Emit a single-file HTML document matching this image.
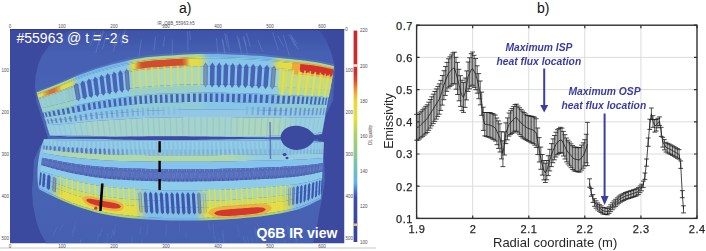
<!DOCTYPE html>
<html><head><meta charset="utf-8"><style>
*{margin:0;padding:0;box-sizing:border-box}
html,body{width:706px;height:251px;overflow:hidden;background:#fff}
body{position:relative;font-family:"Liberation Sans",sans-serif}
svg{position:absolute;left:0;top:0}
.lbl{position:absolute;font-size:14px;color:#111;line-height:16px}
.yl{position:absolute;left:389px;width:24px;text-align:right;font-size:11px;letter-spacing:0.55px;line-height:15px;color:#262626;-webkit-text-stroke:0.25px #262626}
.xl{position:absolute;top:221.5px;width:40px;text-align:center;font-size:11px;letter-spacing:0.55px;text-indent:0.55px;line-height:15px;color:#262626;-webkit-text-stroke:0.25px #262626}
.ann{position:absolute;font-style:italic;font-weight:700;font-size:10.3px;line-height:14px;color:#3a3c9e;white-space:nowrap}
#wrap{position:absolute;left:0;top:0;width:706px;height:251px;background:#fff;filter:blur(0.3px)}
</style></head><body><div id="wrap">
<svg width="706" height="251" viewBox="0 0 706 251">
<defs>
<linearGradient id="cb" x1="0" y1="0" x2="0" y2="1"><stop offset="0" stop-color="#c8282c"/><stop offset="0.196" stop-color="#cc2c2c"/><stop offset="0.234" stop-color="#d84828"/><stop offset="0.267" stop-color="#e88030"/><stop offset="0.3" stop-color="#f0b030"/><stop offset="0.333" stop-color="#e8d838"/><stop offset="0.414" stop-color="#e4e040"/><stop offset="0.447" stop-color="#c8dc48"/><stop offset="0.5" stop-color="#a8d068"/><stop offset="0.58" stop-color="#90c890"/><stop offset="0.65" stop-color="#70c0b8"/><stop offset="0.72" stop-color="#64b4e4"/><stop offset="0.76" stop-color="#4a70c8"/><stop offset="0.79" stop-color="#3c4ca6"/><stop offset="1.0" stop-color="#36429e"/></linearGradient>
<filter id="blr" x="0" y="0" width="1" height="1"><feGaussianBlur stdDeviation="0.6"/></filter><clipPath id="irclip"><rect x="10" y="29" width="334.5" height="214.5"/></clipPath>
<linearGradient id="vesg" gradientUnits="userSpaceOnUse" x1="0" y1="29" x2="0" y2="243"><stop offset="0" stop-color="#3e52a8"/><stop offset="0.12" stop-color="#4660b2"/><stop offset="0.5" stop-color="#4a66b6"/><stop offset="0.85" stop-color="#4762b2"/><stop offset="1" stop-color="#4560b0"/></linearGradient><linearGradient id="g1" gradientUnits="userSpaceOnUse" x1="10" y1="0" x2="345" y2="0"><stop offset="0.000" stop-color="#76b6e6"/><stop offset="0.048" stop-color="#76b6e6"/><stop offset="0.060" stop-color="#7dbadb"/><stop offset="0.072" stop-color="#98cbb0"/><stop offset="0.084" stop-color="#acd890"/><stop offset="0.179" stop-color="#acd890"/><stop offset="0.191" stop-color="#91c7bb"/><stop offset="0.203" stop-color="#76b6e6"/><stop offset="0.346" stop-color="#76b6e6"/><stop offset="0.358" stop-color="#91c7bb"/><stop offset="0.370" stop-color="#acd890"/><stop offset="0.561" stop-color="#acd890"/><stop offset="0.573" stop-color="#9ed0a6"/><stop offset="0.585" stop-color="#84bed0"/><stop offset="0.597" stop-color="#76b6e6"/><stop offset="0.776" stop-color="#76b6e6"/><stop offset="0.788" stop-color="#8ac3c6"/><stop offset="0.800" stop-color="#a5d49b"/><stop offset="0.812" stop-color="#acd890"/><stop offset="0.967" stop-color="#acd890"/><stop offset="0.979" stop-color="#9ed0a6"/><stop offset="0.991" stop-color="#84bed0"/></linearGradient><linearGradient id="g2" gradientUnits="userSpaceOnUse" x1="10" y1="0" x2="345" y2="0"><stop offset="0.000" stop-color="#84c4e6"/><stop offset="0.048" stop-color="#84c4e6"/><stop offset="0.060" stop-color="#8fc7d3"/><stop offset="0.072" stop-color="#bbd388"/><stop offset="0.084" stop-color="#dcdc50"/><stop offset="0.096" stop-color="#dcdc50"/><stop offset="0.107" stop-color="#e1c849"/><stop offset="0.119" stop-color="#e5bb44"/><stop offset="0.131" stop-color="#e5bb44"/><stop offset="0.143" stop-color="#e1c849"/><stop offset="0.155" stop-color="#dcdc50"/><stop offset="0.179" stop-color="#dcdc50"/><stop offset="0.191" stop-color="#b0d09b"/><stop offset="0.203" stop-color="#84c4e6"/><stop offset="0.346" stop-color="#84c4e6"/><stop offset="0.358" stop-color="#b0d09b"/><stop offset="0.370" stop-color="#dcdc50"/><stop offset="0.382" stop-color="#e3c246"/><stop offset="0.394" stop-color="#e8b040"/><stop offset="0.513" stop-color="#e8b040"/><stop offset="0.525" stop-color="#e3c246"/><stop offset="0.537" stop-color="#dcdc50"/><stop offset="0.561" stop-color="#dcdc50"/><stop offset="0.573" stop-color="#c6d676"/><stop offset="0.585" stop-color="#9acac0"/><stop offset="0.597" stop-color="#84c4e6"/><stop offset="0.776" stop-color="#84c4e6"/><stop offset="0.788" stop-color="#a5cdae"/><stop offset="0.800" stop-color="#d1d963"/><stop offset="0.812" stop-color="#dcdc50"/><stop offset="0.967" stop-color="#dcdc50"/><stop offset="0.979" stop-color="#c6d676"/><stop offset="0.991" stop-color="#9acac0"/></linearGradient><linearGradient id="g3" gradientUnits="userSpaceOnUse" x1="10" y1="0" x2="345" y2="0"><stop offset="0.000" stop-color="#86c6e8"/><stop offset="0.048" stop-color="#86c6e8"/><stop offset="0.060" stop-color="#92c9d4"/><stop offset="0.072" stop-color="#c1d482"/><stop offset="0.084" stop-color="#e4dc44"/><stop offset="0.096" stop-color="#e4dc44"/><stop offset="0.107" stop-color="#dc9c3a"/><stop offset="0.119" stop-color="#d77134"/><stop offset="0.131" stop-color="#d77134"/><stop offset="0.143" stop-color="#dc9c3a"/><stop offset="0.155" stop-color="#e4dc44"/><stop offset="0.179" stop-color="#e4dc44"/><stop offset="0.191" stop-color="#b5d196"/><stop offset="0.203" stop-color="#86c6e8"/><stop offset="0.346" stop-color="#86c6e8"/><stop offset="0.358" stop-color="#b5d196"/><stop offset="0.370" stop-color="#e4dc44"/><stop offset="0.382" stop-color="#d98637"/><stop offset="0.394" stop-color="#d24d2f"/><stop offset="0.513" stop-color="#d24d2f"/><stop offset="0.525" stop-color="#d98637"/><stop offset="0.537" stop-color="#e4dc44"/><stop offset="0.561" stop-color="#e4dc44"/><stop offset="0.573" stop-color="#ccd66d"/><stop offset="0.585" stop-color="#9eccbf"/><stop offset="0.597" stop-color="#86c6e8"/><stop offset="0.776" stop-color="#86c6e8"/><stop offset="0.788" stop-color="#a9ceaa"/><stop offset="0.800" stop-color="#d8d958"/><stop offset="0.812" stop-color="#e4dc44"/><stop offset="0.967" stop-color="#e4dc44"/><stop offset="0.979" stop-color="#ccd66d"/><stop offset="0.991" stop-color="#9eccbf"/></linearGradient><linearGradient id="g4" gradientUnits="userSpaceOnUse" x1="10" y1="0" x2="345" y2="0"><stop offset="0.000" stop-color="#84c4ea"/><stop offset="0.048" stop-color="#84c4ea"/><stop offset="0.060" stop-color="#88c5e4"/><stop offset="0.072" stop-color="#96c9ca"/><stop offset="0.084" stop-color="#a1ccb7"/><stop offset="0.096" stop-color="#a1ccb7"/><stop offset="0.107" stop-color="#c1bf81"/><stop offset="0.119" stop-color="#d6b75e"/><stop offset="0.131" stop-color="#d6b75e"/><stop offset="0.143" stop-color="#c1bf81"/><stop offset="0.155" stop-color="#a1ccb7"/><stop offset="0.191" stop-color="#a1ccb7"/><stop offset="0.203" stop-color="#93c8d0"/><stop offset="0.215" stop-color="#84c4ea"/><stop offset="0.346" stop-color="#84c4ea"/><stop offset="0.358" stop-color="#aed0a1"/><stop offset="0.370" stop-color="#d8dc58"/><stop offset="0.382" stop-color="#e2c24a"/><stop offset="0.394" stop-color="#e8b040"/><stop offset="0.513" stop-color="#e8b040"/><stop offset="0.525" stop-color="#e2c24a"/><stop offset="0.537" stop-color="#d8dc58"/><stop offset="0.561" stop-color="#d8dc58"/><stop offset="0.573" stop-color="#c3d67c"/><stop offset="0.585" stop-color="#99cac6"/><stop offset="0.597" stop-color="#84c4ea"/><stop offset="0.776" stop-color="#84c4ea"/><stop offset="0.788" stop-color="#a4cdb3"/><stop offset="0.800" stop-color="#ced96a"/><stop offset="0.812" stop-color="#d8dc58"/><stop offset="0.967" stop-color="#d8dc58"/><stop offset="0.979" stop-color="#c3d67c"/><stop offset="0.991" stop-color="#99cac6"/></linearGradient><linearGradient id="g5" gradientUnits="userSpaceOnUse" x1="10" y1="0" x2="345" y2="0"><stop offset="0.000" stop-color="#82c4ea"/><stop offset="0.048" stop-color="#82c4ea"/><stop offset="0.060" stop-color="#84c5e8"/><stop offset="0.072" stop-color="#8ac8e1"/><stop offset="0.084" stop-color="#8fcbdb"/><stop offset="0.191" stop-color="#8fcbdb"/><stop offset="0.203" stop-color="#89c8e3"/><stop offset="0.215" stop-color="#82c4ea"/><stop offset="0.346" stop-color="#82c4ea"/><stop offset="0.358" stop-color="#95ced5"/><stop offset="0.370" stop-color="#a8d8c0"/><stop offset="0.561" stop-color="#a8d8c0"/><stop offset="0.573" stop-color="#9ed3ca"/><stop offset="0.585" stop-color="#8cc9e0"/><stop offset="0.597" stop-color="#82c4ea"/><stop offset="0.776" stop-color="#82c4ea"/><stop offset="0.788" stop-color="#90ccda"/><stop offset="0.800" stop-color="#a3d6c5"/><stop offset="0.812" stop-color="#a8d8c0"/><stop offset="0.967" stop-color="#a8d8c0"/><stop offset="0.979" stop-color="#9ed3ca"/><stop offset="0.991" stop-color="#8cc9e0"/></linearGradient><linearGradient id="g6" gradientUnits="userSpaceOnUse" x1="10" y1="0" x2="345" y2="0"><stop offset="0.000" stop-color="#8ccce8"/><stop offset="0.048" stop-color="#8ccce8"/><stop offset="0.060" stop-color="#8ecce4"/><stop offset="0.072" stop-color="#94ced4"/><stop offset="0.084" stop-color="#98d0c8"/><stop offset="0.179" stop-color="#98d0c8"/><stop offset="0.191" stop-color="#92ced8"/><stop offset="0.203" stop-color="#8ccce8"/><stop offset="0.346" stop-color="#8ccce8"/><stop offset="0.358" stop-color="#92ced8"/><stop offset="0.370" stop-color="#98d0c8"/><stop offset="0.561" stop-color="#98d0c8"/><stop offset="0.573" stop-color="#95cfd0"/><stop offset="0.585" stop-color="#8fcde0"/><stop offset="0.597" stop-color="#8ccce8"/><stop offset="0.776" stop-color="#8ccce8"/><stop offset="0.788" stop-color="#90cedc"/><stop offset="0.800" stop-color="#96d0cc"/><stop offset="0.812" stop-color="#98d0c8"/><stop offset="0.967" stop-color="#98d0c8"/><stop offset="0.979" stop-color="#95cfd0"/><stop offset="0.991" stop-color="#8fcde0"/></linearGradient><linearGradient id="g7" gradientUnits="userSpaceOnUse" x1="10" y1="0" x2="345" y2="0"><stop offset="0.000" stop-color="#7cbce8"/><stop offset="0.048" stop-color="#7cbce8"/><stop offset="0.060" stop-color="#7ebee6"/><stop offset="0.072" stop-color="#84c4e0"/><stop offset="0.084" stop-color="#88c8dc"/><stop offset="0.179" stop-color="#88c8dc"/><stop offset="0.191" stop-color="#82c2e2"/><stop offset="0.203" stop-color="#7cbce8"/><stop offset="0.346" stop-color="#7cbce8"/><stop offset="0.358" stop-color="#82c2e2"/><stop offset="0.370" stop-color="#88c8dc"/><stop offset="0.561" stop-color="#88c8dc"/><stop offset="0.573" stop-color="#85c5df"/><stop offset="0.585" stop-color="#7fbfe5"/><stop offset="0.597" stop-color="#7cbce8"/><stop offset="0.776" stop-color="#7cbce8"/><stop offset="0.788" stop-color="#80c0e4"/><stop offset="0.800" stop-color="#86c6de"/><stop offset="0.812" stop-color="#88c8dc"/><stop offset="0.967" stop-color="#88c8dc"/><stop offset="0.979" stop-color="#85c5df"/><stop offset="0.991" stop-color="#7fbfe5"/></linearGradient><linearGradient id="g8" gradientUnits="userSpaceOnUse" x1="10" y1="0" x2="345" y2="0"><stop offset="0.000" stop-color="#86c6e6"/><stop offset="0.048" stop-color="#86c6e6"/><stop offset="0.060" stop-color="#87c7e4"/><stop offset="0.072" stop-color="#8ccadd"/><stop offset="0.084" stop-color="#90ccd8"/><stop offset="0.179" stop-color="#90ccd8"/><stop offset="0.191" stop-color="#8bc9df"/><stop offset="0.203" stop-color="#86c6e6"/><stop offset="0.346" stop-color="#86c6e6"/><stop offset="0.358" stop-color="#8bc9df"/><stop offset="0.370" stop-color="#90ccd8"/><stop offset="0.561" stop-color="#90ccd8"/><stop offset="0.573" stop-color="#8ecadc"/><stop offset="0.585" stop-color="#88c8e2"/><stop offset="0.597" stop-color="#86c6e6"/><stop offset="0.776" stop-color="#86c6e6"/><stop offset="0.788" stop-color="#8ac8e1"/><stop offset="0.800" stop-color="#8fcbda"/><stop offset="0.812" stop-color="#90ccd8"/><stop offset="0.967" stop-color="#90ccd8"/><stop offset="0.979" stop-color="#8ecadc"/><stop offset="0.991" stop-color="#88c8e2"/></linearGradient><linearGradient id="g9" gradientUnits="userSpaceOnUse" x1="10" y1="0" x2="345" y2="0"><stop offset="0.000" stop-color="#98cede"/><stop offset="0.155" stop-color="#98cede"/><stop offset="0.167" stop-color="#99cedd"/><stop offset="0.179" stop-color="#9bcfda"/><stop offset="0.191" stop-color="#9dd0d6"/><stop offset="0.203" stop-color="#9fd1d3"/><stop offset="0.215" stop-color="#a1d1d0"/><stop offset="0.227" stop-color="#a3d2cc"/><stop offset="0.239" stop-color="#a5d3c9"/><stop offset="0.657" stop-color="#a5d3c9"/><stop offset="0.669" stop-color="#a8d4c4"/><stop offset="0.681" stop-color="#abd5bf"/><stop offset="0.693" stop-color="#add6bc"/><stop offset="0.788" stop-color="#add6bc"/><stop offset="0.800" stop-color="#aad5c0"/><stop offset="0.812" stop-color="#a7d4c6"/><stop offset="0.824" stop-color="#a4d2cb"/><stop offset="0.836" stop-color="#a0d1d1"/><stop offset="0.848" stop-color="#9dd0d6"/><stop offset="0.860" stop-color="#9acfdb"/><stop offset="0.872" stop-color="#98cede"/><stop offset="0.991" stop-color="#98cede"/></linearGradient><linearGradient id="g10" gradientUnits="userSpaceOnUse" x1="10" y1="0" x2="345" y2="0"><stop offset="0.000" stop-color="#96cee0"/><stop offset="0.084" stop-color="#96cee0"/><stop offset="0.096" stop-color="#98cfdc"/><stop offset="0.107" stop-color="#9bd0d5"/><stop offset="0.119" stop-color="#9fd1cd"/><stop offset="0.131" stop-color="#a2d3c6"/><stop offset="0.143" stop-color="#a6d4be"/><stop offset="0.155" stop-color="#a9d5b7"/><stop offset="0.167" stop-color="#add7af"/><stop offset="0.179" stop-color="#b0d8a8"/><stop offset="0.657" stop-color="#b0d8a8"/><stop offset="0.669" stop-color="#add7af"/><stop offset="0.681" stop-color="#a9d5b7"/><stop offset="0.693" stop-color="#a6d4be"/><stop offset="0.704" stop-color="#a2d3c6"/><stop offset="0.716" stop-color="#9fd1cd"/><stop offset="0.728" stop-color="#9bd0d5"/><stop offset="0.740" stop-color="#98cfdc"/><stop offset="0.752" stop-color="#96cee0"/><stop offset="0.991" stop-color="#96cee0"/></linearGradient><linearGradient id="g11" gradientUnits="userSpaceOnUse" x1="10" y1="0" x2="345" y2="0"><stop offset="0.000" stop-color="#84c4ea"/><stop offset="0.119" stop-color="#84c4ea"/><stop offset="0.131" stop-color="#90cbd9"/><stop offset="0.143" stop-color="#9cd1c9"/><stop offset="0.155" stop-color="#a8d8b8"/><stop offset="0.370" stop-color="#a8d8b8"/><stop offset="0.382" stop-color="#9fd3c4"/><stop offset="0.394" stop-color="#93ccd5"/><stop offset="0.406" stop-color="#87c6e6"/><stop offset="0.418" stop-color="#84c4ea"/><stop offset="0.549" stop-color="#84c4ea"/><stop offset="0.561" stop-color="#8ac7e2"/><stop offset="0.573" stop-color="#96ced1"/><stop offset="0.585" stop-color="#a2d5c0"/><stop offset="0.597" stop-color="#a8d8b8"/><stop offset="0.812" stop-color="#a8d8b8"/><stop offset="0.824" stop-color="#a2d5c0"/><stop offset="0.836" stop-color="#96ced1"/><stop offset="0.848" stop-color="#8ac7e2"/><stop offset="0.860" stop-color="#84c4ea"/><stop offset="0.991" stop-color="#84c4ea"/></linearGradient><linearGradient id="g12" gradientUnits="userSpaceOnUse" x1="10" y1="0" x2="345" y2="0"><stop offset="0.000" stop-color="#82c2ea"/><stop offset="0.119" stop-color="#82c2ea"/><stop offset="0.131" stop-color="#99cbc1"/><stop offset="0.143" stop-color="#b1d399"/><stop offset="0.155" stop-color="#c8dc70"/><stop offset="0.370" stop-color="#c8dc70"/><stop offset="0.382" stop-color="#b6d68e"/><stop offset="0.394" stop-color="#9fcdb7"/><stop offset="0.406" stop-color="#88c4e0"/><stop offset="0.418" stop-color="#82c2ea"/><stop offset="0.549" stop-color="#82c2ea"/><stop offset="0.561" stop-color="#8ec6d6"/><stop offset="0.573" stop-color="#a5cfad"/><stop offset="0.585" stop-color="#bcd884"/><stop offset="0.597" stop-color="#c8dc70"/><stop offset="0.812" stop-color="#c8dc70"/><stop offset="0.824" stop-color="#bcd884"/><stop offset="0.836" stop-color="#a5cfad"/><stop offset="0.848" stop-color="#8ec6d6"/><stop offset="0.860" stop-color="#82c2ea"/><stop offset="0.991" stop-color="#82c2ea"/></linearGradient><linearGradient id="g13" gradientUnits="userSpaceOnUse" x1="10" y1="0" x2="345" y2="0"><stop offset="0.000" stop-color="#80c0e6"/><stop offset="0.119" stop-color="#80c0e6"/><stop offset="0.131" stop-color="#a1c9b1"/><stop offset="0.143" stop-color="#c3d37d"/><stop offset="0.155" stop-color="#e4dc48"/><stop offset="0.370" stop-color="#e4dc48"/><stop offset="0.382" stop-color="#cbd570"/><stop offset="0.394" stop-color="#aacca4"/><stop offset="0.406" stop-color="#88c2d9"/><stop offset="0.418" stop-color="#80c0e6"/><stop offset="0.549" stop-color="#80c0e6"/><stop offset="0.561" stop-color="#91c5cc"/><stop offset="0.573" stop-color="#b2ce97"/><stop offset="0.585" stop-color="#d3d762"/><stop offset="0.597" stop-color="#e4dc48"/><stop offset="0.812" stop-color="#e4dc48"/><stop offset="0.824" stop-color="#d3d762"/><stop offset="0.836" stop-color="#b2ce97"/><stop offset="0.848" stop-color="#91c5cc"/><stop offset="0.860" stop-color="#80c0e6"/><stop offset="0.991" stop-color="#80c0e6"/></linearGradient><linearGradient id="g14" gradientUnits="userSpaceOnUse" x1="10" y1="0" x2="345" y2="0"><stop offset="0.000" stop-color="#78b4e0"/><stop offset="0.119" stop-color="#78b4e0"/><stop offset="0.131" stop-color="#88bdbd"/><stop offset="0.143" stop-color="#98c79b"/><stop offset="0.155" stop-color="#a8d078"/><stop offset="0.370" stop-color="#a8d078"/><stop offset="0.382" stop-color="#9cc992"/><stop offset="0.394" stop-color="#8cc0b5"/><stop offset="0.406" stop-color="#7cb6d7"/><stop offset="0.418" stop-color="#78b4e0"/><stop offset="0.549" stop-color="#78b4e0"/><stop offset="0.561" stop-color="#80b9cf"/><stop offset="0.573" stop-color="#90c2ac"/><stop offset="0.585" stop-color="#a0cb89"/><stop offset="0.597" stop-color="#a8d078"/><stop offset="0.812" stop-color="#a8d078"/><stop offset="0.824" stop-color="#a0cb89"/><stop offset="0.836" stop-color="#90c2ac"/><stop offset="0.848" stop-color="#80b9cf"/><stop offset="0.860" stop-color="#78b4e0"/><stop offset="0.991" stop-color="#78b4e0"/></linearGradient>
</defs>
<g clip-path="url(#irclip)"><g filter="url(#blr)">
<rect x="10" y="29" width="334.5" height="214.5" fill="#3b4a9e"/>
<path d="M72.0,29.0 319.0,29.0 326.0,40.0 332.0,55.0 335.0,68.0 333.0,100.0 326.0,115.0 319.5,134.7 318.0,138.0 319.5,147.0 324.0,160.0 325.0,180.0 322.0,199.0 320.0,208.0 317.0,226.0 313.0,243.5 46.5,243.5 40.0,232.0 36.0,220.0 33.0,205.0 32.0,190.0 33.0,178.0 34.0,160.0 40.0,146.0 48.0,138.0 36.0,100.0 35.0,85.0 35.6,76.0 38.0,65.0 42.0,55.5 49.0,45.7 57.0,39.0 65.0,33.0 Z" fill="url(#vesg)"/>
<path d="M164.5,36.5l-0.9,10.1M106.7,33.7l-4.4,15.5M103.3,30.4l-4.6,15.1M189.7,30.9l0.6,9.0M187.6,31.2l0.5,19.6M141.3,39.5l-2.3,16.8M222.7,39.8l2.6,13.6M100.7,32.9l-4.8,20.0M123.2,33.1l-3.4,9.6M277.7,35.8l5.9,10.5M237.0,35.5l3.4,13.2M104.4,32.1l-4.5,8.8M246.5,33.1l4.0,14.0M224.7,33.0l2.7,14.3M272.7,32.4l5.6,17.8M222.1,38.8l2.5,15.4M257.8,39.8l4.7,12.0M117.2,37.6l-3.8,13.9M125.0,30.4l-3.3,14.8M243.7,35.7l3.8,18.7M291.4,37.0l6.7,12.4M226.7,34.6l2.8,16.1M283.2,34.7l6.2,21.2M242.8,37.0l3.8,8.8M238.8,38.2l3.5,21.9M155.5,36.7l-1.5,13.4M95.2,31.7l-5.1,14.5M116.9,37.7l-3.8,8.8M119.7,33.9l-3.6,11.5M290.4,34.5l6.6,9.1M216.4,38.2l2.2,20.4M288.7,34.2l6.5,11.9M172.5,39.6l-0.4,20.4M124.7,32.3l-3.3,10.5" stroke="#7e9ee0" stroke-width="0.7" opacity="0.45" fill="none"/>
<path d="M108.3,232.6l-2.1,11.8M115.7,229.5l-1.9,6.0M142.3,239.2l-1.1,12.8M222.6,233.1l1.3,12.2M219.1,238.2l1.2,6.6M245.0,236.4l1.9,16.5M148.1,223.9l-1.0,10.8M208.6,223.2l0.9,6.7M102.2,228.1l-2.3,7.9M63.1,224.7l-3.5,6.0M75.4,222.5l-3.1,10.4M268.6,224.7l2.7,13.4M113.1,228.6l-2.0,10.2M80.7,239.9l-3.0,16.2M166.5,223.5l-0.4,11.8M75.5,226.8l-3.1,10.1M257.2,222.4l2.3,7.9M287.7,224.6l3.2,12.3M185.8,231.5l0.2,6.3M294.6,234.5l3.4,16.4M115.3,225.0l-1.9,10.4M243.0,236.0l1.9,12.4M132.4,236.6l-1.4,8.7M296.2,236.5l3.5,16.2M254.6,226.1l2.2,14.9M179.4,222.5l-0.0,10.3M57.0,226.7l-3.7,9.4M223.1,230.1l1.3,17.5M284.3,239.2l3.1,17.9M141.2,226.1l-1.2,8.6M99.2,233.2l-2.4,8.5M275.1,230.6l2.9,16.1M213.2,223.5l1.0,15.6M215.1,236.1l1.1,16.9M237.5,225.2l1.7,11.7M247.3,236.4l2.0,10.0M292.9,229.2l3.4,10.8M286.7,225.1l3.2,14.7M81.8,238.3l-2.9,7.8M251.6,236.9l2.1,7.8" stroke="#6a88d0" stroke-width="0.7" opacity="0.35" fill="none"/>
<rect x="10" y="29" width="335" height="1.2" fill="#2e3c94"/>
<path d="M36.2,91.4 39.3,90.1 43.8,88.3 49.1,86.2 54.7,83.9 60.2,81.6 66.2,79.0 72.5,76.3 78.9,73.6 85.2,71.1 91.3,68.9 97.4,66.9 103.5,65.0 109.5,63.2 115.6,61.6 121.8,60.0 127.9,58.6 134.1,57.3 140.3,56.2 146.4,55.3 152.4,54.7 158.5,54.2 164.7,53.8 171.1,53.3 177.7,52.9 184.5,52.5 191.4,52.2 198.2,51.9 204.8,51.9 211.5,51.9 218.1,52.0 224.7,52.2 231.3,52.5 237.9,52.7 244.5,53.0 251.1,53.3 257.7,53.8 264.4,54.3 271.2,54.9 277.9,55.7 284.5,56.4 290.7,57.1 296.7,57.8 302.4,58.4 307.8,59.1 313.0,59.8 317.9,60.6 322.9,61.6 327.6,62.7 331.5,63.6 334.3,64.3 334.0,66.0 331.2,65.4 327.3,64.5 322.6,63.4 317.7,62.5 312.8,61.7 307.6,61.0 302.2,60.3 296.5,59.7 290.5,59.1 284.3,58.4 277.8,57.7 271.0,57.0 264.2,56.3 257.6,55.8 251.0,55.4 244.4,55.1 237.8,54.8 231.2,54.5 224.6,54.3 218.0,54.1 211.4,54.0 204.8,54.0 198.2,54.0 191.4,54.2 184.6,54.6 177.8,55.0 171.2,55.4 164.8,55.8 158.6,56.2 152.5,56.7 146.5,57.3 140.4,58.2 134.2,59.2 128.1,60.5 121.9,61.9 115.8,63.4 109.7,65.0 103.7,66.8 97.6,68.6 91.5,70.6 85.4,72.7 79.2,75.1 72.8,77.8 66.5,80.4 60.5,83.0 55.0,85.2 49.4,87.4 44.1,89.5 39.7,91.3 36.5,92.5 Z" fill="#5a80c8" opacity="0.5"/>
<path d="M36.5,92.5 39.7,91.3 44.1,89.5 49.4,87.4 55.0,85.2 60.5,83.0 66.5,80.4 72.8,77.8 79.2,75.1 85.4,72.7 91.5,70.6 97.6,68.6 103.7,66.8 109.7,65.0 115.8,63.4 121.9,61.9 128.1,60.5 134.2,59.2 140.4,58.2 146.5,57.3 152.5,56.7 158.6,56.2 164.8,55.8 171.2,55.4 177.8,55.0 184.6,54.6 191.4,54.2 198.2,54.0 204.8,54.0 211.4,54.0 218.0,54.1 224.6,54.3 231.2,54.5 237.8,54.8 244.4,55.1 251.0,55.4 257.6,55.8 264.2,56.3 271.0,57.0 277.8,57.7 284.3,58.4 290.5,59.1 296.5,59.7 302.2,60.3 307.6,61.0 312.8,61.7 317.7,62.5 322.6,63.4 327.3,64.5 331.2,65.4 334.0,66.0 333.6,68.4 330.8,67.8 326.9,66.9 322.3,66.0 317.3,65.0 312.4,64.3 307.3,63.6 301.9,63.0 296.2,62.4 290.3,61.8 284.1,61.2 277.5,60.5 270.8,59.8 264.1,59.2 257.4,58.7 250.9,58.3 244.3,58.0 237.7,57.7 231.1,57.5 224.5,57.3 218.0,57.1 211.4,56.9 204.8,56.9 198.2,57.0 191.4,57.2 184.6,57.5 177.9,57.9 171.3,58.3 164.9,58.7 158.7,59.1 152.7,59.5 146.6,60.1 140.6,61.0 134.4,62.0 128.3,63.2 122.2,64.6 116.1,66.0 110.0,67.6 103.9,69.2 97.9,71.0 91.9,72.9 85.8,75.0 79.5,77.3 73.1,79.8 66.9,82.4 61.0,84.9 55.4,87.0 49.8,89.2 44.6,91.2 40.1,92.8 37.0,94.0 Z" fill="url(#g1)"/>
<path d="M37.0,94.0 40.1,92.8 44.6,91.2 49.8,89.2 55.4,87.0 61.0,84.9 66.9,82.4 73.1,79.8 79.5,77.3 85.8,75.0 91.9,72.9 97.9,71.0 103.9,69.2 110.0,67.6 116.1,66.0 122.2,64.6 128.3,63.2 134.4,62.0 140.6,61.0 146.6,60.1 152.7,59.5 158.7,59.1 164.9,58.7 171.3,58.3 177.9,57.9 184.6,57.5 191.4,57.2 198.2,57.0 204.8,56.9 211.4,56.9 218.0,57.1 224.5,57.3 231.1,57.5 237.7,57.7 244.3,58.0 250.9,58.3 257.4,58.7 264.1,59.2 270.8,59.8 277.5,60.5 284.1,61.2 290.3,61.8 296.2,62.4 301.9,63.0 307.3,63.6 312.4,64.3 317.3,65.0 322.3,66.0 326.9,66.9 330.8,67.8 333.6,68.4 333.4,69.4 330.6,68.8 326.7,68.0 322.1,67.0 317.2,66.1 312.3,65.4 307.2,64.7 301.7,64.2 296.1,63.6 290.2,63.0 284.0,62.3 277.4,61.7 270.7,61.0 264.0,60.4 257.4,59.9 250.8,59.5 244.2,59.2 237.6,58.9 231.1,58.7 224.5,58.5 218.0,58.3 211.4,58.2 204.8,58.2 198.2,58.2 191.4,58.4 184.6,58.7 177.9,59.1 171.3,59.5 164.9,59.9 158.8,60.3 152.7,60.8 146.7,61.4 140.6,62.2 134.5,63.2 128.4,64.4 122.3,65.7 116.2,67.2 110.1,68.7 104.1,70.3 98.0,72.0 92.0,73.9 85.9,75.9 79.7,78.2 73.3,80.7 67.1,83.3 61.1,85.7 55.6,87.8 50.0,89.9 44.8,91.9 40.3,93.5 37.2,94.7 Z" fill="url(#g2)"/>
<path d="M37.2,94.7 40.3,93.5 44.8,91.9 50.0,89.9 55.6,87.8 61.1,85.7 67.1,83.3 73.3,80.7 79.7,78.2 85.9,75.9 92.0,73.9 98.0,72.0 104.1,70.3 110.1,68.7 116.2,67.2 122.3,65.7 128.4,64.4 134.5,63.2 140.6,62.2 146.7,61.4 152.7,60.8 158.8,60.3 164.9,59.9 171.3,59.5 177.9,59.1 184.6,58.7 191.4,58.4 198.2,58.2 204.8,58.2 211.4,58.2 218.0,58.3 224.5,58.5 231.1,58.7 237.6,58.9 244.2,59.2 250.8,59.5 257.4,59.9 264.0,60.4 270.7,61.0 277.4,61.7 284.0,62.3 290.2,63.0 296.1,63.6 301.7,64.2 307.2,64.7 312.3,65.4 317.2,66.1 322.1,67.0 326.7,68.0 330.6,68.8 333.4,69.4 332.4,74.8 329.7,74.3 325.8,73.6 321.2,72.8 316.3,72.0 311.5,71.3 306.4,70.8 301.0,70.3 295.4,69.8 289.6,69.3 283.4,68.7 276.9,68.1 270.2,67.5 263.5,67.0 257.0,66.5 250.4,66.1 243.9,65.9 237.4,65.6 230.9,65.4 224.3,65.2 217.8,65.0 211.3,64.9 204.8,64.9 198.2,65.0 191.5,65.1 184.7,65.4 178.0,65.7 171.5,66.1 165.2,66.5 159.1,66.9 153.1,67.3 147.1,67.8 141.0,68.6 135.0,69.5 128.9,70.6 122.8,71.8 116.8,73.1 110.7,74.5 104.7,76.0 98.7,77.6 92.7,79.3 86.7,81.1 80.5,83.2 74.2,85.5 68.0,87.8 62.1,90.0 56.6,91.9 51.0,93.8 45.8,95.6 41.4,97.1 38.3,98.2 Z" fill="url(#g3)"/>
<path d="M38.3,98.2 41.4,97.1 45.8,95.6 51.0,93.8 56.6,91.9 62.1,90.0 68.0,87.8 74.2,85.5 80.5,83.2 86.7,81.1 92.7,79.3 98.7,77.6 104.7,76.0 110.7,74.5 116.8,73.1 122.8,71.8 128.9,70.6 135.0,69.5 141.0,68.6 147.1,67.8 153.1,67.3 159.1,66.9 165.2,66.5 171.5,66.1 178.0,65.7 184.7,65.4 191.5,65.1 198.2,65.0 204.8,64.9 211.3,64.9 217.8,65.0 224.3,65.2 230.9,65.4 237.4,65.6 243.9,65.9 250.4,66.1 257.0,66.5 263.5,67.0 270.2,67.5 276.9,68.1 283.4,68.7 289.6,69.3 295.4,69.8 301.0,70.3 306.4,70.8 311.5,71.3 316.3,72.0 321.2,72.8 325.8,73.6 329.7,74.3 332.4,74.8 332.2,76.2 329.4,75.7 325.6,75.0 321.0,74.2 316.1,73.5 311.3,72.8 306.2,72.3 300.9,71.8 295.3,71.3 289.4,70.8 283.3,70.3 276.8,69.7 270.1,69.1 263.4,68.6 256.9,68.2 250.4,67.8 243.8,67.5 237.3,67.3 230.8,67.1 224.3,66.9 217.8,66.7 211.3,66.6 204.8,66.6 198.2,66.6 191.5,66.8 184.8,67.1 178.1,67.4 171.5,67.8 165.2,68.1 159.1,68.5 153.1,68.9 147.2,69.4 141.1,70.1 135.1,71.1 129.0,72.1 123.0,73.3 116.9,74.6 110.9,76.0 104.9,77.4 98.9,79.0 92.9,80.6 86.9,82.4 80.7,84.5 74.4,86.7 68.2,89.0 62.3,91.1 56.8,93.0 51.3,94.8 46.1,96.5 41.7,98.0 38.5,99.0 Z" fill="url(#g4)"/>
<path d="M38.5,99.0 41.7,98.0 46.1,96.5 51.3,94.8 56.8,93.0 62.3,91.1 68.2,89.0 74.4,86.7 80.7,84.5 86.9,82.4 92.9,80.6 98.9,79.0 104.9,77.4 110.9,76.0 116.9,74.6 123.0,73.3 129.0,72.1 135.1,71.1 141.1,70.1 147.2,69.4 153.1,68.9 159.1,68.5 165.2,68.1 171.5,67.8 178.1,67.4 184.8,67.1 191.5,66.8 198.2,66.6 204.8,66.6 211.3,66.6 217.8,66.7 224.3,66.9 230.8,67.1 237.3,67.3 243.8,67.5 250.4,67.8 256.9,68.2 263.4,68.6 270.1,69.1 276.8,69.7 283.3,70.3 289.4,70.8 295.3,71.3 300.9,71.8 306.2,72.3 311.3,72.8 316.1,73.5 321.0,74.2 325.6,75.0 329.4,75.7 332.2,76.2 329.7,90.5 327.0,90.2 323.2,89.8 318.7,89.3 314.0,88.9 309.2,88.5 304.3,88.2 299.1,87.9 293.6,87.6 287.8,87.3 281.8,86.9 275.4,86.5 268.9,86.1 262.3,85.7 255.9,85.4 249.5,85.2 243.1,84.9 236.7,84.7 230.3,84.6 223.9,84.4 217.5,84.3 211.1,84.2 204.7,84.2 198.2,84.3 191.7,84.4 185.0,84.6 178.5,84.8 172.0,85.1 165.9,85.4 159.9,85.7 154.0,86.0 148.1,86.4 142.2,86.9 136.3,87.6 130.3,88.4 124.4,89.3 118.4,90.3 112.5,91.3 106.6,92.3 100.7,93.5 94.8,94.7 88.9,96.0 82.8,97.5 76.6,99.2 70.5,100.9 64.8,102.4 59.4,103.8 53.9,105.2 48.8,106.4 44.5,107.4 41.4,108.2 Z" fill="url(#g5)"/>
<path d="M41.4,108.2 44.5,107.4 48.8,106.4 53.9,105.2 59.4,103.8 64.8,102.4 70.5,100.9 76.6,99.2 82.8,97.5 88.9,96.0 94.8,94.7 100.7,93.5 106.6,92.3 112.5,91.3 118.4,90.3 124.4,89.3 130.3,88.4 136.3,87.6 142.2,86.9 148.1,86.4 154.0,86.0 159.9,85.7 165.9,85.4 172.0,85.1 178.5,84.8 185.0,84.6 191.7,84.4 198.2,84.3 204.7,84.2 211.1,84.2 217.5,84.3 223.9,84.4 230.3,84.6 236.7,84.7 243.1,84.9 249.5,85.2 255.9,85.4 262.3,85.7 268.9,86.1 275.4,86.5 281.8,86.9 287.8,87.3 293.6,87.6 299.1,87.9 304.3,88.2 309.2,88.5 314.0,88.9 318.7,89.3 323.2,89.8 327.0,90.2 329.7,90.5 328.5,97.3 325.8,97.1 322.1,96.8 317.7,96.5 313.0,96.2 308.3,95.9 303.4,95.7 298.2,95.6 292.7,95.4 287.1,95.1 281.1,94.9 274.8,94.5 268.3,94.2 261.8,93.9 255.4,93.6 249.0,93.4 242.7,93.2 236.4,93.1 230.0,92.9 223.7,92.8 217.3,92.7 211.0,92.6 204.6,92.6 198.2,92.7 191.7,92.8 185.2,92.9 178.7,93.2 172.3,93.4 166.2,93.6 160.2,93.8 154.4,94.1 148.6,94.4 142.7,94.9 136.8,95.5 130.9,96.2 125.0,96.9 119.1,97.7 113.3,98.6 107.4,99.5 101.6,100.4 95.7,101.4 89.8,102.5 83.8,103.8 77.7,105.1 71.7,106.5 66.0,107.8 60.6,109.0 55.2,110.1 50.1,111.1 45.8,111.9 42.7,112.5 Z" fill="url(#g6)"/>
<path d="M42.7,112.5 45.8,111.9 50.1,111.1 55.2,110.1 60.6,109.0 66.0,107.8 71.7,106.5 77.7,105.1 83.8,103.8 89.8,102.5 95.7,101.4 101.6,100.4 107.4,99.5 113.3,98.6 119.1,97.7 125.0,96.9 130.9,96.2 136.8,95.5 142.7,94.9 148.6,94.4 154.4,94.1 160.2,93.8 166.2,93.6 172.3,93.4 178.7,93.2 185.2,92.9 191.7,92.8 198.2,92.7 204.6,92.6 211.0,92.6 217.3,92.7 223.7,92.8 230.0,92.9 236.4,93.1 242.7,93.2 249.0,93.4 255.4,93.6 261.8,93.9 268.3,94.2 274.8,94.5 281.1,94.9 287.1,95.1 292.7,95.4 298.2,95.6 303.4,95.7 308.3,95.9 313.0,96.2 317.7,96.5 322.1,96.8 325.8,97.1 328.5,97.3 327.2,104.8 324.5,104.7 320.8,104.5 316.5,104.4 311.8,104.2 307.2,104.1 302.4,104.0 297.2,104.0 291.9,103.9 286.2,103.8 280.3,103.6 274.1,103.3 267.6,103.1 261.2,102.9 254.9,102.7 248.6,102.5 242.3,102.4 236.0,102.2 229.7,102.1 223.4,102.0 217.2,101.9 210.9,101.9 204.6,101.9 198.3,101.9 191.8,102.0 185.3,102.1 178.9,102.3 172.6,102.5 166.5,102.7 160.6,102.8 154.8,103.0 149.1,103.3 143.3,103.7 137.4,104.1 131.6,104.7 125.8,105.3 119.9,105.9 114.1,106.6 108.3,107.3 102.5,108.0 96.7,108.8 90.9,109.6 84.9,110.6 78.9,111.7 72.9,112.8 67.3,113.8 62.0,114.7 56.6,115.5 51.5,116.2 47.2,116.9 44.2,117.3 Z" fill="url(#g7)"/>
<path d="M44.2,117.3 47.2,116.9 51.5,116.2 56.6,115.5 62.0,114.7 67.3,113.8 72.9,112.8 78.9,111.7 84.9,110.6 90.9,109.6 96.7,108.8 102.5,108.0 108.3,107.3 114.1,106.6 119.9,105.9 125.8,105.3 131.6,104.7 137.4,104.1 143.3,103.7 149.1,103.3 154.8,103.0 160.6,102.8 166.5,102.7 172.6,102.5 178.9,102.3 185.3,102.1 191.8,102.0 198.3,101.9 204.6,101.9 210.9,101.9 217.2,101.9 223.4,102.0 229.7,102.1 236.0,102.2 242.3,102.4 248.6,102.5 254.9,102.7 261.2,102.9 267.6,103.1 274.1,103.3 280.3,103.6 286.2,103.8 291.9,103.9 297.2,104.0 302.4,104.0 307.2,104.1 311.8,104.2 316.5,104.4 320.8,104.5 324.5,104.7 327.2,104.8 326.1,110.9 323.5,110.9 319.8,110.9 315.5,110.9 310.9,110.8 306.3,110.8 301.5,110.9 296.5,110.9 291.1,110.9 285.6,110.8 279.7,110.7 273.5,110.6 267.1,110.4 260.7,110.2 254.4,110.1 248.2,109.9 242.0,109.8 235.7,109.7 229.5,109.6 223.3,109.5 217.0,109.5 210.8,109.4 204.6,109.4 198.3,109.5 191.9,109.5 185.4,109.6 179.0,109.8 172.8,109.9 166.8,110.1 160.9,110.2 155.2,110.4 149.5,110.6 143.7,110.9 138.0,111.2 132.2,111.7 126.4,112.2 120.6,112.7 114.8,113.2 109.0,113.7 103.3,114.2 97.5,114.8 91.7,115.5 85.8,116.2 79.8,117.1 73.9,117.9 68.3,118.7 63.1,119.3 57.7,119.9 52.7,120.5 48.4,120.9 45.4,121.2 Z" fill="url(#g8)"/>
<path d="M45.4,121.2 48.4,120.9 52.7,120.5 57.7,119.9 63.1,119.3 68.3,118.7 73.9,117.9 79.8,117.1 85.8,116.2 91.7,115.5 97.5,114.8 103.3,114.2 109.0,113.7 114.8,113.2 120.6,112.7 126.4,112.2 132.2,111.7 138.0,111.2 143.7,110.9 149.5,110.6 155.2,110.4 160.9,110.2 166.8,110.1 172.8,109.9 179.0,109.8 185.4,109.6 191.9,109.5 198.3,109.5 204.6,109.4 210.8,109.4 217.0,109.5 223.3,109.5 229.5,109.6 235.7,109.7 242.0,109.8 248.2,109.9 254.4,110.1 260.7,110.2 267.1,110.4 273.5,110.6 279.7,110.7 285.6,110.8 291.1,110.9 296.5,110.9 301.5,110.9 306.3,110.8 310.9,110.8 315.5,110.9 319.8,110.9 323.5,110.9 326.1,110.9 325.0,117.0 322.4,117.1 318.8,117.2 314.5,117.3 310.0,117.4 305.4,117.5 300.7,117.7 295.7,117.8 290.4,117.8 284.9,117.9 279.1,117.8 272.9,117.8 266.6,117.7 260.2,117.6 254.0,117.5 247.8,117.4 241.6,117.3 235.4,117.2 229.2,117.1 223.1,117.1 216.9,117.0 210.7,117.0 204.5,117.0 198.3,117.0 191.9,117.1 185.5,117.1 179.2,117.2 173.0,117.3 167.0,117.5 161.2,117.6 155.6,117.7 149.9,117.8 144.2,118.0 138.5,118.3 132.7,118.6 127.0,119.0 121.2,119.4 115.5,119.7 109.8,120.1 104.1,120.4 98.3,120.8 92.6,121.3 86.7,121.8 80.8,122.4 74.9,123.0 69.4,123.5 64.2,124.0 58.9,124.4 53.9,124.7 49.6,124.9 46.6,125.1 Z" fill="#90c8e6"/>
<path d="M46.6,125.1 49.6,124.9 53.9,124.7 58.9,124.4 64.2,124.0 69.4,123.5 74.9,123.0 80.8,122.4 86.7,121.8 92.6,121.3 98.3,120.8 104.1,120.4 109.8,120.1 115.5,119.7 121.2,119.4 127.0,119.0 132.7,118.6 138.5,118.3 144.2,118.0 149.9,117.8 155.6,117.7 161.2,117.6 167.0,117.5 173.0,117.3 179.2,117.2 185.5,117.1 191.9,117.1 198.3,117.0 204.5,117.0 210.7,117.0 216.9,117.0 223.1,117.1 229.2,117.1 235.4,117.2 241.6,117.3 247.8,117.4 254.0,117.5 260.2,117.6 266.6,117.7 272.9,117.8 279.1,117.8 284.9,117.9 290.4,117.8 295.7,117.8 300.7,117.7 305.4,117.5 310.0,117.4 314.5,117.3 318.8,117.2 322.4,117.1 325.0,117.0 322.3,132.3 319.8,132.6 316.3,133.0 312.1,133.5 307.7,133.9 303.2,134.3 298.6,134.7 293.7,135.0 288.6,135.3 283.2,135.5 277.5,135.7 271.5,135.8 265.3,135.9 259.0,135.9 252.9,136.0 246.9,136.0 240.8,136.0 234.7,135.9 228.7,135.9 222.6,135.9 216.6,135.9 210.5,135.9 204.4,135.9 198.3,135.9 192.1,135.9 185.8,135.9 179.6,135.9 173.6,135.9 167.7,135.9 162.0,136.0 156.5,136.0 150.9,136.0 145.4,136.0 139.7,136.0 134.1,136.1 128.5,136.1 122.9,136.2 117.2,136.1 111.6,136.1 106.0,136.0 100.4,135.9 94.8,135.9 89.0,135.8 83.2,135.8 77.5,135.8 72.0,135.7 66.9,135.6 61.7,135.4 56.8,135.2 52.6,135.0 49.7,134.9 Z" fill="url(#g9)"/>
<path d="M49.7,134.9 52.6,135.0 56.8,135.2 61.7,135.4 66.9,135.6 72.0,135.7 77.5,135.8 83.2,135.8 89.0,135.8 94.8,135.9 100.4,135.9 106.0,136.0 111.6,136.1 117.2,136.1 122.9,136.2 128.5,136.1 134.1,136.1 139.7,136.0 145.4,136.0 150.9,136.0 156.5,136.0 162.0,136.0 167.7,135.9 173.6,135.9 179.6,135.9 185.8,135.9 192.1,135.9 198.3,135.9 204.4,135.9 210.5,135.9 216.6,135.9 222.6,135.9 228.7,135.9 234.7,135.9 240.8,136.0 246.9,136.0 252.9,136.0 259.0,135.9 265.3,135.9 271.5,135.8 277.5,135.7 283.2,135.5 288.6,135.3 293.7,135.0 298.6,134.7 303.2,134.3 307.7,133.9 312.1,133.5 316.3,133.0 319.8,132.6 322.3,132.3 322.0,134.0 319.5,134.3 316.0,134.8 311.8,135.3 307.4,135.8 303.0,136.2 298.4,136.6 293.5,136.9 288.4,137.2 283.0,137.5 277.3,137.7 271.3,137.8 265.1,137.9 258.9,138.0 252.8,138.0 246.7,138.0 240.7,138.0 234.6,138.0 228.6,138.0 222.6,138.0 216.5,138.0 210.5,138.0 204.4,138.0 198.3,138.0 192.1,138.0 185.9,138.0 179.7,138.0 173.6,138.0 167.8,138.0 162.1,138.0 156.6,138.0 151.1,138.0 145.5,138.0 139.9,138.0 134.3,138.0 128.7,138.0 123.0,138.0 117.4,138.0 111.8,137.9 106.2,137.7 100.6,137.6 95.0,137.5 89.3,137.4 83.5,137.3 77.8,137.2 72.3,137.1 67.2,136.9 62.0,136.7 57.1,136.4 53.0,136.2 50.0,136.0 Z" fill="#8cc4dc"/>
<path d="M281.0,70.1 284.3,70.4 287.5,70.7 290.6,70.9 293.6,71.2 296.6,71.4 299.5,71.7 302.4,71.9 305.1,72.2 307.8,72.5 310.4,72.7 313.0,73.0 315.5,73.4 318.0,73.7 320.5,74.1 323.0,74.5 325.3,75.0 327.4,75.3 329.3,75.7 330.9,76.0 332.2,76.2 328.6,96.6 327.4,96.5 325.8,96.4 324.0,96.2 321.9,96.1 319.7,95.9 317.3,95.7 314.8,95.6 312.4,95.4 310.0,95.3 307.5,95.2 305.0,95.0 302.4,94.9 299.7,94.8 297.0,94.7 294.1,94.6 291.3,94.5 288.3,94.4 285.3,94.3 282.2,94.1 279.0,93.9 Z" fill="#c8dc78" opacity="0.6"/>
<path d="M292.5,61.6 295.1,61.9 297.6,62.2 300.0,62.4 302.5,62.7 304.8,62.9 307.1,63.2 309.4,63.5 311.6,63.8 313.7,64.1 315.8,64.4 318.0,64.8 320.1,65.2 322.2,65.6 324.3,66.0 326.2,66.4 328.1,66.8 329.8,67.2 331.3,67.5 332.6,67.8 333.6,68.0 331.7,78.9 330.7,78.8 329.4,78.5 327.9,78.3 326.3,78.0 324.5,77.7 322.5,77.4 320.5,77.1 318.4,76.8 316.3,76.5 314.2,76.2 312.1,76.0 310.0,75.7 307.9,75.5 305.7,75.3 303.4,75.1 301.1,74.9 298.7,74.7 296.3,74.5 293.8,74.3 291.3,74.1 Z" fill="#ef9a3a" opacity="0.8"/>
<path d="M300.4,64.0 302.4,64.2 304.4,64.4 306.4,64.7 308.3,64.9 310.1,65.1 312.0,65.3 313.7,65.6 315.5,65.9 317.3,66.1 319.1,66.5 320.8,66.8 322.6,67.1 324.3,67.5 326.0,67.8 327.5,68.2 329.0,68.5 330.3,68.8 331.5,69.0 332.6,69.2 333.4,69.4 332.1,76.9 331.2,76.7 330.2,76.6 329.0,76.3 327.7,76.1 326.3,75.9 324.7,75.6 323.1,75.3 321.4,75.0 319.7,74.7 317.9,74.5 316.1,74.2 314.4,74.0 312.6,73.7 310.9,73.5 309.1,73.4 307.2,73.2 305.4,73.0 303.4,72.8 301.5,72.6 299.5,72.5 Z" fill="#d02a2a" opacity="0.95"/>
<path d="M69.2,85.5 71.7,87.0 74.1,99.9 72.5,102.8 70.0,101.0 67.5,88.6 Z" fill="#3e4eaa" fill-opacity="0.07"/>
<path d="M75.7,83.0 78.3,84.6 80.6,98.1 78.8,101.1 76.3,99.3 73.9,86.2 Z" fill="#3e4eaa" fill-opacity="0.74"/>
<path d="M82.3,80.6 84.8,82.4 87.0,96.5 85.2,99.5 82.7,97.6 80.5,83.9 Z" fill="#3e4eaa" fill-opacity="0.82"/>
<path d="M88.7,78.4 91.1,80.4 93.2,95.1 91.5,98.1 89.0,96.0 86.9,81.7 Z" fill="#3e4eaa" fill-opacity="0.82"/>
<path d="M95.0,76.5 97.4,78.7 99.3,93.8 97.6,96.9 95.2,94.6 93.2,79.8 Z" fill="#3e4eaa" fill-opacity="0.82"/>
<path d="M101.2,74.7 103.6,77.0 105.5,92.6 103.7,95.8 101.4,93.4 99.5,78.1 Z" fill="#3e4eaa" fill-opacity="0.82"/>
<path d="M107.5,73.1 109.9,75.5 111.6,91.4 109.9,94.7 107.5,92.2 105.7,76.5 Z" fill="#3e4eaa" fill-opacity="0.82"/>
<path d="M113.8,71.5 116.2,74.0 117.8,90.4 116.0,93.7 113.6,91.1 112.0,75.0 Z" fill="#3e4eaa" fill-opacity="0.82"/>
<path d="M120.1,70.1 122.5,72.7 123.9,89.4 122.2,92.7 119.8,90.0 118.3,73.6 Z" fill="#3e4eaa" fill-opacity="0.82"/>
<path d="M126.4,68.7 128.8,71.4 130.1,88.4 128.3,91.8 126.0,89.1 124.6,72.2 Z" fill="#3e4eaa" fill-opacity="0.68"/>
<path d="M132.8,67.5 135.1,70.3 136.3,87.6 134.5,91.0 132.2,88.1 130.9,71.0 Z" fill="#3e4eaa" fill-opacity="0.04"/>
<path d="M205.6,62.4 207.9,65.7 207.7,84.2 205.5,87.6 203.3,84.2 203.3,65.7 Z" fill="#3e4eaa" fill-opacity="0.57"/>
<path d="M212.4,62.4 214.7,65.8 214.4,84.3 212.1,87.6 209.9,84.2 210.1,65.7 Z" fill="#3e4eaa" fill-opacity="0.82"/>
<path d="M219.2,62.6 221.4,66.0 221.0,84.4 218.8,87.7 216.6,84.3 216.9,65.9 Z" fill="#3e4eaa" fill-opacity="0.82"/>
<path d="M226.0,62.7 228.2,66.1 227.7,84.5 225.4,87.8 223.2,84.4 223.7,66.0 Z" fill="#3e4eaa" fill-opacity="0.82"/>
<path d="M232.8,62.9 235.0,66.4 234.4,84.7 232.0,88.0 229.9,84.6 230.5,66.2 Z" fill="#3e4eaa" fill-opacity="0.82"/>
<path d="M239.7,63.2 241.8,66.6 241.0,84.9 238.7,88.1 236.6,84.7 237.3,66.4 Z" fill="#3e4eaa" fill-opacity="0.82"/>
<path d="M246.5,63.5 248.6,66.9 247.7,85.1 245.3,88.3 243.2,84.9 244.1,66.7 Z" fill="#3e4eaa" fill-opacity="0.82"/>
<path d="M253.3,63.8 255.4,67.2 254.4,85.3 252.0,88.6 249.9,85.2 250.9,67.0 Z" fill="#3e4eaa" fill-opacity="0.82"/>
<path d="M260.1,64.2 262.2,67.7 261.1,85.7 258.6,88.8 256.6,85.4 257.7,67.4 Z" fill="#3e4eaa" fill-opacity="0.82"/>
<path d="M267.1,64.8 269.2,68.2 267.9,86.0 265.4,89.2 263.3,85.8 264.5,67.8 Z" fill="#3e4eaa" fill-opacity="0.82"/>
<path d="M274.1,65.4 276.1,68.8 274.7,86.5 272.2,89.5 270.2,86.2 271.5,68.4 Z" fill="#3e4eaa" fill-opacity="0.60"/>
<path d="M37.9,98.3 38.7,98.0 42.0,108.9 41.3,109.1 Z" fill="#dcdc58" fill-opacity="0.28"/>
<path d="M40.9,97.3 42.2,96.8 45.5,108.1 44.3,108.4 Z" fill="#dcdc58" fill-opacity="0.28"/>
<path d="M45.4,95.7 47.1,95.2 50.3,107.0 48.7,107.4 Z" fill="#dcdc58" fill-opacity="0.28"/>
<path d="M50.8,93.9 52.6,93.3 55.8,105.8 54.0,106.2 Z" fill="#dcdc58" fill-opacity="0.28"/>
<path d="M56.6,91.9 58.4,91.3 61.4,104.4 59.6,104.9 Z" fill="#dcdc58" fill-opacity="0.28"/>
<path d="M62.3,89.9 64.2,89.2 67.1,103.0 65.3,103.5 Z" fill="#dcdc58" fill-opacity="0.28"/>
<path d="M68.5,87.6 70.5,86.9 73.3,101.3 71.3,101.9 Z" fill="#dcdc58" fill-opacity="0.28"/>
<path d="M75.0,85.2 77.0,84.4 79.6,99.6 77.6,100.2 Z" fill="#dcdc58" fill-opacity="0.16"/>
<path d="M125.6,71.2 127.6,70.8 129.2,90.1 127.2,90.4 Z" fill="#dcdc58" fill-opacity="0.14"/>
<path d="M131.9,70.0 133.9,69.7 135.4,89.3 133.4,89.6 Z" fill="#dcdc58" fill-opacity="0.77"/>
<path d="M138.3,69.0 140.3,68.7 141.6,88.6 139.6,88.8 Z" fill="#dcdc58" fill-opacity="0.80"/>
<path d="M144.6,68.1 146.6,67.9 147.7,88.0 145.8,88.2 Z" fill="#dcdc58" fill-opacity="0.80"/>
<path d="M150.8,67.5 152.8,67.3 153.8,87.6 151.9,87.7 Z" fill="#dcdc58" fill-opacity="0.80"/>
<path d="M157.1,67.0 159.0,66.9 159.9,87.3 158.0,87.4 Z" fill="#dcdc58" fill-opacity="0.80"/>
<path d="M163.4,66.6 165.4,66.5 166.2,87.0 164.2,87.1 Z" fill="#dcdc58" fill-opacity="0.80"/>
<path d="M169.9,66.2 172.0,66.1 172.6,86.8 170.5,86.8 Z" fill="#dcdc58" fill-opacity="0.80"/>
<path d="M176.7,65.8 178.9,65.7 179.3,86.5 177.2,86.6 Z" fill="#dcdc58" fill-opacity="0.80"/>
<path d="M183.6,65.5 185.9,65.4 186.2,86.2 184.0,86.3 Z" fill="#dcdc58" fill-opacity="0.80"/>
<path d="M190.7,65.2 192.9,65.1 193.0,86.0 190.9,86.1 Z" fill="#dcdc58" fill-opacity="0.80"/>
<path d="M197.7,65.0 199.8,64.9 199.8,85.9 197.7,85.9 Z" fill="#dcdc58" fill-opacity="0.80"/>
<path d="M204.5,64.9 206.7,64.9 206.5,85.9 204.4,85.9 Z" fill="#dcdc58" fill-opacity="0.25"/>
<path d="M272.8,67.7 275.0,67.9 273.4,88.0 271.2,87.9 Z" fill="#dcdc58" fill-opacity="0.21"/>
<path d="M279.7,68.3 281.8,68.5 280.1,88.4 278.0,88.3 Z" fill="#dcdc58" fill-opacity="0.80"/>
<path d="M286.3,69.0 288.3,69.1 286.5,88.8 284.5,88.7 Z" fill="#dcdc58" fill-opacity="0.80"/>
<path d="M292.5,69.5 294.5,69.7 292.4,89.1 290.6,89.0 Z" fill="#dcdc58" fill-opacity="0.80"/>
<path d="M298.5,70.0 300.4,70.2 298.2,89.4 296.4,89.3 Z" fill="#dcdc58" fill-opacity="0.80"/>
<path d="M304.2,70.6 306.0,70.7 303.7,89.7 302.0,89.6 Z" fill="#dcdc58" fill-opacity="0.80"/>
<path d="M309.6,71.1 311.3,71.3 308.8,90.0 307.2,89.9 Z" fill="#dcdc58" fill-opacity="0.80"/>
<path d="M314.7,71.8 316.3,72.0 313.8,90.3 312.2,90.2 Z" fill="#dcdc58" fill-opacity="0.80"/>
<path d="M319.8,72.5 321.4,72.8 318.7,90.8 317.2,90.6 Z" fill="#dcdc58" fill-opacity="0.80"/>
<path d="M324.7,73.4 326.2,73.7 323.3,91.2 321.9,91.1 Z" fill="#dcdc58" fill-opacity="0.80"/>
<path d="M329.0,74.2 330.1,74.4 327.2,91.6 326.1,91.5 Z" fill="#dcdc58" fill-opacity="0.80"/>
<path d="M332.1,74.8 332.8,74.9 329.8,91.9 329.1,91.8 Z" fill="#dcdc58" fill-opacity="0.80"/>
<path d="M282.8,70.2 285.4,70.5 283.2,95.0 280.6,94.8 Z" fill="#e8e040" fill-opacity="0.85"/>
<path d="M291.4,71.0 293.8,71.2 291.4,95.3 289.0,95.2 Z" fill="#e8e040" fill-opacity="0.85"/>
<path d="M299.4,71.7 301.8,71.9 299.0,95.6 296.8,95.5 Z" fill="#e8e040" fill-opacity="0.85"/>
<path d="M307.0,72.4 309.2,72.6 306.2,95.8 304.1,95.8 Z" fill="#e8e040" fill-opacity="0.85"/>
<path d="M314.0,73.2 316.0,73.4 312.9,96.2 310.9,96.1 Z" fill="#e8e040" fill-opacity="0.85"/>
<path d="M320.9,74.2 322.9,74.5 319.5,96.6 317.5,96.5 Z" fill="#e8e040" fill-opacity="0.85"/>
<path d="M327.2,75.3 328.8,75.6 325.2,97.0 323.6,96.9 Z" fill="#e8e040" fill-opacity="0.85"/>
<path d="M331.7,76.1 332.6,76.3 328.9,97.3 328.0,97.2 Z" fill="#e8e040" fill-opacity="0.85"/>
<path d="M42.4,113.0 43.4,112.8 44.7,117.2 43.8,117.4 Z" fill="#3e4ea8" fill-opacity="0.85"/>
<path d="M44.7,112.6 46.3,112.3 47.6,116.8 46.1,117.0 Z" fill="#3e4ea8" fill-opacity="0.85"/>
<path d="M48.2,111.9 50.1,111.6 51.4,116.3 49.5,116.5 Z" fill="#3e4ea8" fill-opacity="0.85"/>
<path d="M52.4,111.1 54.5,110.7 55.8,115.6 53.6,115.9 Z" fill="#3e4ea8" fill-opacity="0.85"/>
<path d="M57.0,110.2 59.3,109.8 60.5,114.9 58.2,115.2 Z" fill="#3e4ea8" fill-opacity="0.85"/>
<path d="M61.8,109.3 64.0,108.8 65.2,114.2 63.0,114.5 Z" fill="#3e4ea8" fill-opacity="0.85"/>
<path d="M66.5,108.3 68.8,107.8 70.0,113.3 67.6,113.7 Z" fill="#3e4ea8" fill-opacity="0.85"/>
<path d="M71.5,107.2 74.0,106.6 75.1,112.4 72.6,112.8 Z" fill="#3e4ea8" fill-opacity="0.85"/>
<path d="M76.8,106.0 79.3,105.4 80.4,111.4 77.8,111.9 Z" fill="#3e4ea8" fill-opacity="0.85"/>
<path d="M82.1,104.8 84.7,104.2 85.7,110.5 83.2,110.9 Z" fill="#3e4ea8" fill-opacity="0.85"/>
<path d="M87.5,103.6 90.0,103.1 91.0,109.6 88.5,110.0 Z" fill="#3e4ea8" fill-opacity="0.85"/>
<path d="M92.7,102.6 95.2,102.2 96.1,108.9 93.6,109.2 Z" fill="#3e4ea8" fill-opacity="0.85"/>
<path d="M97.8,101.7 100.3,101.3 101.2,108.2 98.7,108.5 Z" fill="#3e4ea8" fill-opacity="0.85"/>
<path d="M103.0,100.9 105.5,100.5 106.3,107.5 103.8,107.8 Z" fill="#3e4ea8" fill-opacity="0.85"/>
<path d="M108.1,100.1 110.6,99.7 111.4,106.9 108.9,107.2 Z" fill="#3e4ea8" fill-opacity="0.85"/>
<path d="M113.3,99.3 115.8,99.0 116.5,106.3 114.1,106.6 Z" fill="#3e4ea8" fill-opacity="0.85"/>
<path d="M118.5,98.6 120.9,98.2 121.6,105.8 119.2,106.0 Z" fill="#3e4ea8" fill-opacity="0.85"/>
<path d="M123.6,97.9 126.1,97.6 126.8,105.2 124.3,105.5 Z" fill="#3e4ea8" fill-opacity="0.85"/>
<path d="M128.8,97.2 131.3,96.9 131.9,104.7 129.4,104.9 Z" fill="#3e4ea8" fill-opacity="0.85"/>
<path d="M134.0,96.6 136.5,96.3 137.1,104.2 134.6,104.4 Z" fill="#3e4ea8" fill-opacity="0.85"/>
<path d="M139.2,96.0 141.7,95.8 142.2,103.8 139.7,103.9 Z" fill="#3e4ea8" fill-opacity="0.85"/>
<path d="M144.4,95.6 146.8,95.4 147.3,103.4 144.9,103.6 Z" fill="#3e4ea8" fill-opacity="0.85"/>
<path d="M149.5,95.2 152.0,95.0 152.4,103.1 150.0,103.3 Z" fill="#3e4ea8" fill-opacity="0.85"/>
<path d="M154.6,94.9 157.1,94.8 157.4,102.9 155.0,103.0 Z" fill="#3e4ea8" fill-opacity="0.85"/>
<path d="M159.7,94.7 162.2,94.6 162.6,102.8 160.1,102.9 Z" fill="#3e4ea8" fill-opacity="0.85"/>
<path d="M164.9,94.5 167.5,94.4 167.8,102.6 165.3,102.7 Z" fill="#3e4ea8" fill-opacity="0.85"/>
<path d="M170.3,94.3 172.9,94.2 173.1,102.5 170.5,102.5 Z" fill="#3e4ea8" fill-opacity="0.85"/>
<path d="M175.8,94.1 178.5,94.0 178.7,102.3 176.0,102.4 Z" fill="#3e4ea8" fill-opacity="0.85"/>
<path d="M181.5,93.9 184.2,93.8 184.4,102.1 181.6,102.2 Z" fill="#3e4ea8" fill-opacity="0.85"/>
<path d="M187.2,93.7 190.0,93.7 190.1,102.0 187.3,102.1 Z" fill="#3e4ea8" fill-opacity="0.85"/>
<path d="M193.0,93.6 195.8,93.5 195.8,101.9 193.1,102.0 Z" fill="#3e4ea8" fill-opacity="0.85"/>
<path d="M198.7,93.5 201.4,93.5 201.4,101.9 198.7,101.9 Z" fill="#3e4ea8" fill-opacity="0.85"/>
<path d="M204.3,93.5 207.0,93.5 207.0,101.9 204.3,101.9 Z" fill="#3e4ea8" fill-opacity="0.85"/>
<path d="M209.9,93.5 212.6,93.5 212.5,101.9 209.8,101.9 Z" fill="#3e4ea8" fill-opacity="0.85"/>
<path d="M215.5,93.5 218.2,93.6 218.0,101.9 215.4,101.9 Z" fill="#3e4ea8" fill-opacity="0.85"/>
<path d="M221.1,93.6 223.7,93.7 223.5,102.0 220.9,102.0 Z" fill="#3e4ea8" fill-opacity="0.85"/>
<path d="M226.6,93.7 229.3,93.8 229.1,102.1 226.4,102.1 Z" fill="#3e4ea8" fill-opacity="0.85"/>
<path d="M232.2,93.8 234.9,93.9 234.6,102.2 231.9,102.1 Z" fill="#3e4ea8" fill-opacity="0.85"/>
<path d="M237.8,93.9 240.5,94.0 240.1,102.3 237.5,102.3 Z" fill="#3e4ea8" fill-opacity="0.85"/>
<path d="M243.4,94.1 246.1,94.2 245.7,102.4 243.0,102.4 Z" fill="#3e4ea8" fill-opacity="0.85"/>
<path d="M249.0,94.2 251.6,94.3 251.2,102.6 248.5,102.5 Z" fill="#3e4ea8" fill-opacity="0.85"/>
<path d="M254.5,94.4 257.2,94.5 256.7,102.7 254.1,102.7 Z" fill="#3e4ea8" fill-opacity="0.85"/>
<path d="M260.1,94.6 262.9,94.8 262.3,102.9 259.6,102.8 Z" fill="#3e4ea8" fill-opacity="0.85"/>
<path d="M265.8,94.9 268.6,95.0 268.0,103.1 265.3,103.0 Z" fill="#3e4ea8" fill-opacity="0.85"/>
<path d="M271.6,95.2 274.3,95.3 273.7,103.3 271.0,103.2 Z" fill="#3e4ea8" fill-opacity="0.85"/>
<path d="M277.2,95.5 279.9,95.6 279.2,103.5 276.6,103.4 Z" fill="#3e4ea8" fill-opacity="0.85"/>
<path d="M282.7,95.7 285.2,95.8 284.5,103.7 282.0,103.6 Z" fill="#3e4ea8" fill-opacity="0.85"/>
<path d="M287.9,96.0 290.3,96.0 289.5,103.8 287.1,103.8 Z" fill="#3e4ea8" fill-opacity="0.85"/>
<path d="M292.9,96.1 295.2,96.2 294.3,103.9 292.0,103.9 Z" fill="#3e4ea8" fill-opacity="0.85"/>
<path d="M297.6,96.3 299.9,96.4 299.0,104.0 296.8,104.0 Z" fill="#3e4ea8" fill-opacity="0.85"/>
<path d="M302.2,96.5 304.4,96.5 303.4,104.1 301.3,104.0 Z" fill="#3e4ea8" fill-opacity="0.85"/>
<path d="M306.6,96.6 308.6,96.7 307.6,104.1 305.6,104.1 Z" fill="#3e4ea8" fill-opacity="0.85"/>
<path d="M310.8,96.8 312.7,96.9 311.7,104.2 309.8,104.2 Z" fill="#3e4ea8" fill-opacity="0.85"/>
<path d="M314.9,97.0 316.9,97.2 315.8,104.4 313.9,104.3 Z" fill="#3e4ea8" fill-opacity="0.85"/>
<path d="M319.0,97.3 320.9,97.4 319.7,104.5 317.9,104.4 Z" fill="#3e4ea8" fill-opacity="0.85"/>
<path d="M322.8,97.6 324.4,97.7 323.2,104.6 321.6,104.6 Z" fill="#3e4ea8" fill-opacity="0.85"/>
<path d="M325.9,97.8 327.2,97.9 326.0,104.7 324.8,104.7 Z" fill="#3e4ea8" fill-opacity="0.85"/>
<path d="M44.5,119.5 45.3,119.4 46.6,123.8 45.8,123.9 Z" fill="#4a5cb0" fill-opacity="0.67"/>
<path d="M46.9,119.2 48.2,119.1 49.5,123.6 48.2,123.7 Z" fill="#4a5cb0" fill-opacity="0.66"/>
<path d="M50.4,118.8 52.0,118.6 53.3,123.3 51.7,123.4 Z" fill="#4a5cb0" fill-opacity="0.64"/>
<path d="M54.6,118.3 56.5,118.0 57.7,122.9 55.9,123.1 Z" fill="#4a5cb0" fill-opacity="0.62"/>
<path d="M59.3,117.7 61.2,117.4 62.5,122.5 60.6,122.7 Z" fill="#4a5cb0" fill-opacity="0.60"/>
<path d="M64.1,117.0 65.9,116.8 67.1,122.1 65.3,122.3 Z" fill="#4a5cb0" fill-opacity="0.58"/>
<path d="M68.8,116.4 70.8,116.1 72.0,121.6 70.0,121.8 Z" fill="#4a5cb0" fill-opacity="0.56"/>
<path d="M73.9,115.6 76.0,115.2 77.1,121.0 75.0,121.3 Z" fill="#4a5cb0" fill-opacity="0.53"/>
<path d="M79.2,114.7 81.3,114.4 82.4,120.4 80.3,120.7 Z" fill="#4a5cb0" fill-opacity="0.51"/>
<path d="M84.6,113.9 86.7,113.5 87.7,119.8 85.6,120.0 Z" fill="#4a5cb0" fill-opacity="0.48"/>
<path d="M89.9,113.1 92.0,112.8 92.9,119.3 90.9,119.5 Z" fill="#4a5cb0" fill-opacity="0.46"/>
<path d="M95.1,112.4 97.2,112.1 98.1,118.8 96.0,119.0 Z" fill="#4a5cb0" fill-opacity="0.44"/>
<path d="M100.3,111.8 102.3,111.5 103.2,118.4 101.1,118.6 Z" fill="#4a5cb0" fill-opacity="0.41"/>
<path d="M105.4,111.2 107.5,111.0 108.3,118.0 106.3,118.2 Z" fill="#4a5cb0" fill-opacity="0.39"/>
<path d="M110.6,110.6 112.6,110.4 113.4,117.7 111.4,117.8 Z" fill="#4a5cb0" fill-opacity="0.36"/>
<path d="M115.7,110.1 117.8,109.9 118.6,117.3 116.5,117.5 Z" fill="#4a5cb0" fill-opacity="0.34"/>
<path d="M120.9,109.6 123.0,109.4 123.7,116.9 121.6,117.1 Z" fill="#4a5cb0" fill-opacity="0.32"/>
<path d="M126.1,109.1 128.2,108.9 128.8,116.6 126.8,116.7 Z" fill="#4a5cb0" fill-opacity="0.29"/>
<path d="M131.3,108.6 133.4,108.4 134.0,116.2 131.9,116.4 Z" fill="#4a5cb0" fill-opacity="0.27"/>
<path d="M136.5,108.2 138.6,108.0 139.1,115.9 137.1,116.0 Z" fill="#4a5cb0" fill-opacity="0.24"/>
<path d="M141.7,107.8 143.8,107.7 144.3,115.6 142.2,115.7 Z" fill="#4a5cb0" fill-opacity="0.22"/>
<path d="M146.9,107.5 148.9,107.4 149.4,115.4 147.3,115.5 Z" fill="#4a5cb0" fill-opacity="0.20"/>
<path d="M152.0,107.2 154.0,107.1 154.4,115.3 152.4,115.3 Z" fill="#4a5cb0" fill-opacity="0.17"/>
<path d="M157.1,107.0 159.1,107.0 159.5,115.1 157.5,115.2 Z" fill="#4a5cb0" fill-opacity="0.15"/>
<path d="M162.2,106.9 164.3,106.8 164.6,115.0 162.6,115.1 Z" fill="#4a5cb0" fill-opacity="0.12"/>
<path d="M167.5,106.7 169.6,106.7 169.9,114.9 167.8,115.0 Z" fill="#4a5cb0" fill-opacity="0.10"/>
<path d="M172.9,106.6 175.1,106.5 175.3,114.8 173.1,114.9 Z" fill="#4a5cb0" fill-opacity="0.07"/>
<path d="M178.5,106.5 180.8,106.4 181.0,114.7 178.7,114.8 Z" fill="#4a5cb0" fill-opacity="0.05"/>
<path d="M246.1,106.6 248.4,106.6 247.9,114.9 245.7,114.9 Z" fill="#4a5cb0" fill-opacity="0.12"/>
<path d="M251.7,106.7 254.0,106.8 253.5,115.0 251.3,115.0 Z" fill="#4a5cb0" fill-opacity="0.21"/>
<path d="M257.3,106.9 259.6,106.9 259.0,115.1 256.8,115.0 Z" fill="#4a5cb0" fill-opacity="0.30"/>
<path d="M263.0,107.0 265.3,107.1 264.7,115.2 262.4,115.1 Z" fill="#4a5cb0" fill-opacity="0.40"/>
<path d="M268.7,107.2 271.0,107.3 270.4,115.3 268.1,115.3 Z" fill="#4a5cb0" fill-opacity="0.49"/>
<path d="M274.4,107.4 276.7,107.4 276.0,115.4 273.8,115.4 Z" fill="#4a5cb0" fill-opacity="0.50"/>
<path d="M280.0,107.5 282.1,107.6 281.4,115.5 279.3,115.5 Z" fill="#4a5cb0" fill-opacity="0.50"/>
<path d="M285.3,107.7 287.3,107.7 286.5,115.5 284.5,115.5 Z" fill="#4a5cb0" fill-opacity="0.50"/>
<path d="M290.3,107.7 292.2,107.8 291.4,115.5 289.5,115.5 Z" fill="#4a5cb0" fill-opacity="0.50"/>
<path d="M295.1,107.8 297.0,107.8 296.1,115.5 294.3,115.5 Z" fill="#4a5cb0" fill-opacity="0.50"/>
<path d="M299.7,107.8 301.5,107.8 300.6,115.4 298.8,115.4 Z" fill="#4a5cb0" fill-opacity="0.50"/>
<path d="M304.2,107.8 305.9,107.9 304.9,115.3 303.2,115.4 Z" fill="#4a5cb0" fill-opacity="0.50"/>
<path d="M308.4,107.9 310.0,107.9 309.0,115.3 307.4,115.3 Z" fill="#4a5cb0" fill-opacity="0.50"/>
<path d="M312.5,107.9 314.1,108.0 313.1,115.2 311.4,115.2 Z" fill="#4a5cb0" fill-opacity="0.50"/>
<path d="M316.6,108.0 318.2,108.0 317.1,115.1 315.5,115.2 Z" fill="#4a5cb0" fill-opacity="0.50"/>
<path d="M320.4,108.1 321.8,108.1 320.7,115.1 319.3,115.1 Z" fill="#4a5cb0" fill-opacity="0.50"/>
<path d="M323.7,108.1 324.8,108.1 323.6,115.0 322.5,115.0 Z" fill="#4a5cb0" fill-opacity="0.50"/>
<path d="M326.2,108.2 326.9,108.2 325.7,115.0 325.0,115.0 Z" fill="#4a5cb0" fill-opacity="0.50"/>
<path d="M46.4,125.1 46.9,125.1 49.8,134.7 49.4,134.7 Z" fill="#78b4e0" fill-opacity="0.35"/>
<path d="M49.2,125.0 50.0,124.9 52.9,134.8 52.1,134.8 Z" fill="#78b4e0" fill-opacity="0.35"/>
<path d="M53.2,124.7 54.2,124.7 57.1,135.0 56.1,135.0 Z" fill="#78b4e0" fill-opacity="0.35"/>
<path d="M58.0,124.4 59.1,124.3 61.9,135.2 60.8,135.2 Z" fill="#78b4e0" fill-opacity="0.35"/>
<path d="M63.2,124.1 64.3,124.0 67.0,135.4 65.9,135.3 Z" fill="#78b4e0" fill-opacity="0.35"/>
<path d="M68.3,123.6 69.4,123.5 72.0,135.4 70.9,135.4 Z" fill="#78b4e0" fill-opacity="0.35"/>
<path d="M73.6,123.1 74.9,123.0 77.4,135.5 76.2,135.5 Z" fill="#78b4e0" fill-opacity="0.35"/>
<path d="M79.3,122.6 80.6,122.4 83.0,135.5 81.7,135.5 Z" fill="#78b4e0" fill-opacity="0.35"/>
<path d="M85.2,122.0 86.5,121.9 88.7,135.5 87.4,135.5 Z" fill="#78b4e0" fill-opacity="0.35"/>
<path d="M90.9,121.4 92.2,121.3 94.3,135.5 93.1,135.5 Z" fill="#78b4e0" fill-opacity="0.35"/>
<path d="M96.6,121.0 97.8,120.9 99.8,135.6 98.6,135.6 Z" fill="#78b4e0" fill-opacity="0.35"/>
<path d="M102.2,120.6 103.4,120.5 105.4,135.7 104.1,135.6 Z" fill="#78b4e0" fill-opacity="0.35"/>
<path d="M107.8,120.2 109.1,120.1 110.9,135.7 109.6,135.7 Z" fill="#78b4e0" fill-opacity="0.35"/>
<path d="M113.4,119.9 114.7,119.8 116.4,135.8 115.2,135.8 Z" fill="#78b4e0" fill-opacity="0.35"/>
<path d="M119.0,119.5 120.3,119.4 121.9,135.8 120.7,135.8 Z" fill="#78b4e0" fill-opacity="0.35"/>
<path d="M124.7,119.2 125.9,119.1 127.4,135.8 126.2,135.8 Z" fill="#78b4e0" fill-opacity="0.35"/>
<path d="M130.3,118.8 131.5,118.7 132.9,135.7 131.7,135.7 Z" fill="#78b4e0" fill-opacity="0.35"/>
<path d="M135.9,118.5 137.2,118.4 138.4,135.7 137.2,135.7 Z" fill="#78b4e0" fill-opacity="0.35"/>
<path d="M141.6,118.2 142.8,118.1 144.0,135.6 142.7,135.6 Z" fill="#78b4e0" fill-opacity="0.35"/>
<path d="M147.2,117.9 148.4,117.9 149.5,135.6 148.2,135.6 Z" fill="#78b4e0" fill-opacity="0.35"/>
<path d="M152.7,117.7 154.0,117.7 154.9,135.6 153.7,135.6 Z" fill="#78b4e0" fill-opacity="0.35"/>
<path d="M158.3,117.6 159.5,117.6 160.3,135.6 159.1,135.6 Z" fill="#78b4e0" fill-opacity="0.35"/>
<path d="M163.9,117.5 165.1,117.5 165.8,135.5 164.6,135.5 Z" fill="#78b4e0" fill-opacity="0.35"/>
<path d="M169.6,117.4 170.9,117.4 171.5,135.5 170.2,135.5 Z" fill="#78b4e0" fill-opacity="0.35"/>
<path d="M175.6,117.3 176.9,117.3 177.4,135.5 176.1,135.5 Z" fill="#78b4e0" fill-opacity="0.35"/>
<path d="M181.7,117.2 183.1,117.2 183.5,135.5 182.1,135.5 Z" fill="#78b4e0" fill-opacity="0.35"/>
<path d="M188.0,117.1 189.4,117.1 189.6,135.5 188.2,135.5 Z" fill="#78b4e0" fill-opacity="0.35"/>
<path d="M194.3,117.0 195.6,117.0 195.7,135.5 194.4,135.5 Z" fill="#78b4e0" fill-opacity="0.35"/>
<path d="M200.4,117.0 201.8,117.0 201.8,135.5 200.4,135.5 Z" fill="#78b4e0" fill-opacity="0.35"/>
<path d="M206.5,117.0 207.9,117.0 207.7,135.5 206.4,135.5 Z" fill="#78b4e0" fill-opacity="0.35"/>
<path d="M212.6,117.0 213.9,117.0 213.7,135.5 212.4,135.5 Z" fill="#78b4e0" fill-opacity="0.35"/>
<path d="M218.6,117.0 220.0,117.1 219.6,135.5 218.3,135.5 Z" fill="#78b4e0" fill-opacity="0.35"/>
<path d="M224.7,117.1 226.0,117.1 225.5,135.5 224.2,135.5 Z" fill="#78b4e0" fill-opacity="0.35"/>
<path d="M230.8,117.2 232.1,117.2 231.5,135.5 230.2,135.5 Z" fill="#78b4e0" fill-opacity="0.35"/>
<path d="M236.8,117.2 238.2,117.2 237.4,135.5 236.1,135.5 Z" fill="#78b4e0" fill-opacity="0.35"/>
<path d="M242.9,117.3 244.2,117.3 243.4,135.6 242.1,135.5 Z" fill="#78b4e0" fill-opacity="0.35"/>
<path d="M249.0,117.4 250.3,117.4 249.3,135.6 248.0,135.6 Z" fill="#78b4e0" fill-opacity="0.35"/>
<path d="M255.0,117.5 256.4,117.5 255.3,135.5 253.9,135.5 Z" fill="#78b4e0" fill-opacity="0.35"/>
<path d="M261.2,117.6 262.5,117.6 261.3,135.5 260.0,135.5 Z" fill="#78b4e0" fill-opacity="0.35"/>
<path d="M267.4,117.7 268.8,117.7 267.4,135.5 266.1,135.5 Z" fill="#78b4e0" fill-opacity="0.35"/>
<path d="M273.6,117.8 274.9,117.8 273.5,135.4 272.2,135.4 Z" fill="#78b4e0" fill-opacity="0.35"/>
<path d="M279.6,117.9 280.9,117.9 279.3,135.2 278.0,135.3 Z" fill="#78b4e0" fill-opacity="0.35"/>
<path d="M285.3,117.9 286.5,117.9 284.8,135.1 283.6,135.1 Z" fill="#78b4e0" fill-opacity="0.35"/>
<path d="M290.7,117.8 291.8,117.8 290.0,134.8 288.9,134.9 Z" fill="#78b4e0" fill-opacity="0.35"/>
<path d="M295.8,117.8 296.9,117.7 295.0,134.5 293.9,134.6 Z" fill="#78b4e0" fill-opacity="0.35"/>
<path d="M300.7,117.7 301.8,117.6 299.7,134.2 298.7,134.3 Z" fill="#78b4e0" fill-opacity="0.35"/>
<path d="M305.4,117.5 306.4,117.5 304.2,133.9 303.2,133.9 Z" fill="#78b4e0" fill-opacity="0.35"/>
<path d="M309.8,117.4 310.8,117.4 308.5,133.5 307.6,133.6 Z" fill="#78b4e0" fill-opacity="0.35"/>
<path d="M314.3,117.3 315.3,117.3 312.9,133.0 311.9,133.1 Z" fill="#78b4e0" fill-opacity="0.35"/>
<path d="M318.5,117.2 319.4,117.2 316.9,132.6 316.1,132.7 Z" fill="#78b4e0" fill-opacity="0.35"/>
<path d="M322.1,117.1 322.8,117.1 320.2,132.2 319.6,132.3 Z" fill="#78b4e0" fill-opacity="0.35"/>
<path d="M324.8,117.0 325.2,117.0 322.6,131.9 322.1,132.0 Z" fill="#78b4e0" fill-opacity="0.35"/>
<path d="M44,139 C41,146 38,158 37.5,170 C37.3,180 38,186 39.3,189.5 L42,170 Z" fill="#86c4e4"/>
<path d="M44.0,139.0 47.5,139.0 52.3,139.0 58.1,139.0 64.1,139.0 70.0,139.0 75.7,139.0 81.7,139.0 87.8,139.0 93.9,139.0 100.0,139.0 106.0,139.0 112.0,139.0 118.0,139.0 124.0,139.0 130.0,139.0 136.0,139.0 142.0,139.0 148.0,139.0 154.0,139.0 160.0,139.0 166.0,139.0 172.0,139.0 178.0,139.0 184.0,139.0 190.0,139.0 196.0,139.0 202.0,139.0 208.0,139.0 214.0,139.0 220.0,139.0 226.0,139.0 232.0,139.0 238.0,139.0 244.0,139.0 250.0,139.0 256.1,139.1 262.2,139.1 268.4,139.2 274.3,139.4 280.0,139.5 285.4,139.7 290.6,139.8 295.7,140.0 300.5,140.3 305.0,140.5 309.5,140.8 313.9,141.1 318.1,141.5 321.5,141.8 324.0,142.0 323.9,143.1 321.5,143.0 318.0,142.7 313.9,142.4 309.4,142.1 304.9,141.8 300.4,141.6 295.6,141.5 290.6,141.3 285.4,141.1 280.0,141.0 274.3,140.9 268.4,140.8 262.3,140.7 256.2,140.6 250.1,140.6 244.1,140.5 238.1,140.5 232.1,140.6 226.1,140.6 220.1,140.6 214.1,140.6 208.1,140.6 202.1,140.6 196.1,140.6 190.1,140.6 184.1,140.6 178.1,140.6 172.1,140.6 166.1,140.6 160.1,140.6 154.1,140.6 148.1,140.6 142.1,140.6 136.1,140.6 130.1,140.6 124.1,140.6 118.1,140.6 112.1,140.5 106.1,140.5 100.1,140.5 94.0,140.5 87.8,140.4 81.7,140.4 75.8,140.3 70.0,140.3 64.1,140.2 58.0,140.2 52.3,140.1 47.4,140.1 43.9,140.0 Z" fill="#80c0e0"/>
<path d="M43.9,140.0 47.4,140.1 52.3,140.1 58.0,140.2 64.1,140.2 70.0,140.3 75.8,140.3 81.7,140.4 87.8,140.4 94.0,140.5 100.1,140.5 106.1,140.5 112.1,140.5 118.1,140.6 124.1,140.6 130.1,140.6 136.1,140.6 142.1,140.6 148.1,140.6 154.1,140.6 160.1,140.6 166.1,140.6 172.1,140.6 178.1,140.6 184.1,140.6 190.1,140.6 196.1,140.6 202.1,140.6 208.1,140.6 214.1,140.6 220.1,140.6 226.1,140.6 232.1,140.6 238.1,140.5 244.1,140.5 250.1,140.6 256.2,140.6 262.3,140.7 268.4,140.8 274.3,140.9 280.0,141.0 285.4,141.1 290.6,141.3 295.6,141.5 300.4,141.6 304.9,141.8 309.4,142.1 313.9,142.4 318.0,142.7 321.5,143.0 323.9,143.1 323.4,153.4 320.9,153.5 317.4,153.6 313.3,153.8 308.8,153.9 304.4,154.0 299.9,154.1 295.2,154.1 290.4,154.2 285.3,154.2 280.0,154.3 274.5,154.4 268.8,154.4 262.9,154.5 256.9,154.5 251.0,154.6 245.1,154.7 239.1,154.8 233.0,154.9 227.0,155.0 221.0,155.1 215.0,155.2 209.0,155.2 203.0,155.3 197.0,155.3 191.0,155.3 185.0,155.3 179.0,155.3 173.0,155.3 167.0,155.3 161.0,155.3 155.0,155.2 149.0,155.2 143.0,155.1 137.0,155.0 131.0,154.9 124.9,154.8 118.9,154.6 112.8,154.5 106.7,154.3 100.6,154.0 94.4,153.7 88.2,153.3 82.0,152.9 75.9,152.4 70.0,152.0 63.9,151.4 57.7,150.7 51.7,150.1 46.7,149.5 43.1,149.1 Z" fill="#94cce2"/>
<path d="M43.1,149.1 46.7,149.5 51.7,150.1 57.7,150.7 63.9,151.4 70.0,152.0 75.9,152.4 82.0,152.9 88.2,153.3 94.4,153.7 100.6,154.0 106.7,154.3 112.8,154.5 118.9,154.6 124.9,154.8 131.0,154.9 137.0,155.0 143.0,155.1 149.0,155.2 155.0,155.2 161.0,155.3 167.0,155.3 173.0,155.3 179.0,155.3 185.0,155.3 191.0,155.3 197.0,155.3 203.0,155.3 209.0,155.2 215.0,155.2 221.0,155.1 227.0,155.0 233.0,154.9 239.1,154.8 245.1,154.7 251.0,154.6 256.9,154.5 262.9,154.5 268.8,154.4 274.5,154.4 280.0,154.3 285.3,154.2 290.4,154.2 295.2,154.1 299.9,154.1 304.4,154.0 308.8,153.9 313.3,153.8 317.4,153.6 320.9,153.5 323.4,153.4 323.2,158.0 320.7,158.2 317.2,158.5 313.0,158.8 308.6,159.1 304.2,159.4 299.7,159.6 295.1,159.8 290.2,159.9 285.2,160.1 280.0,160.2 274.6,160.4 268.9,160.5 263.2,160.6 257.3,160.7 251.4,160.8 245.5,161.0 239.5,161.1 233.5,161.3 227.4,161.4 221.4,161.5 215.4,161.6 209.4,161.7 203.4,161.8 197.4,161.8 191.4,161.8 185.4,161.8 179.4,161.8 173.4,161.8 167.4,161.8 161.4,161.8 155.4,161.7 149.4,161.6 143.4,161.5 137.4,161.4 131.4,161.3 125.3,161.1 119.2,160.9 113.1,160.7 107.0,160.4 100.8,160.0 94.6,159.5 88.4,159.0 82.1,158.4 75.9,157.8 70.0,157.1 63.9,156.4 57.5,155.4 51.5,154.5 46.3,153.7 42.7,153.1 Z" fill="url(#g10)"/>
<path d="M42.7,153.1 46.3,153.7 51.5,154.5 57.5,155.4 63.9,156.4 70.0,157.1 75.9,157.8 82.1,158.4 88.4,159.0 94.6,159.5 100.8,160.0 107.0,160.4 113.1,160.7 119.2,160.9 125.3,161.1 131.4,161.3 137.4,161.4 143.4,161.5 149.4,161.6 155.4,161.7 161.4,161.8 167.4,161.8 173.4,161.8 179.4,161.8 185.4,161.8 191.4,161.8 197.4,161.8 203.4,161.8 209.4,161.7 215.4,161.6 221.4,161.5 227.4,161.4 233.5,161.3 239.5,161.1 245.5,161.0 251.4,160.8 257.3,160.7 263.2,160.6 268.9,160.5 274.6,160.4 280.0,160.2 285.2,160.1 290.2,159.9 295.1,159.8 299.7,159.6 304.2,159.4 308.6,159.1 313.0,158.8 317.2,158.5 320.7,158.2 323.2,158.0 322.9,163.1 320.4,163.4 316.9,163.9 312.8,164.5 308.3,165.0 303.9,165.5 299.5,165.8 294.9,166.1 290.1,166.4 285.1,166.6 280.0,166.9 274.7,167.1 269.1,167.3 263.4,167.5 257.7,167.7 251.8,167.9 246.0,168.1 240.0,168.3 233.9,168.5 227.9,168.6 221.8,168.8 215.9,168.9 209.8,169.0 203.8,169.1 197.8,169.1 191.8,169.2 185.8,169.2 179.8,169.2 173.8,169.2 167.8,169.1 161.8,169.1 155.9,169.0 149.9,168.9 143.9,168.8 137.9,168.6 131.8,168.4 125.8,168.2 119.6,167.9 113.5,167.6 107.3,167.2 101.1,166.8 94.9,166.2 88.5,165.5 82.2,164.7 76.0,163.9 70.0,163.0 63.8,161.9 57.3,160.7 51.2,159.5 46.0,158.4 42.3,157.7 Z" fill="#84c4ec"/>
<path d="M42.3,157.7 46.0,158.4 51.2,159.5 57.3,160.7 63.8,161.9 70.0,163.0 76.0,163.9 82.2,164.7 88.5,165.5 94.9,166.2 101.1,166.8 107.3,167.2 113.5,167.6 119.6,167.9 125.8,168.2 131.8,168.4 137.9,168.6 143.9,168.8 149.9,168.9 155.9,169.0 161.8,169.1 167.8,169.1 173.8,169.2 179.8,169.2 185.8,169.2 191.8,169.2 197.8,169.1 203.8,169.1 209.8,169.0 215.8,168.9 221.8,168.8 227.9,168.6 233.9,168.5 240.0,168.3 246.0,168.1 251.8,167.9 257.7,167.7 263.4,167.5 269.1,167.3 274.7,167.1 280.0,166.9 285.1,166.6 290.1,166.4 294.9,166.1 299.5,165.8 303.9,165.5 308.3,165.0 312.8,164.5 316.9,163.9 320.4,163.4 322.9,163.1 322.4,171.6 319.9,172.2 316.4,173.0 312.3,173.9 307.8,174.8 303.4,175.6 299.1,176.2 294.6,176.7 289.9,177.2 285.0,177.6 280.0,178.0 274.8,178.4 269.4,178.7 263.9,179.0 258.3,179.3 252.6,179.6 246.8,179.9 240.8,180.1 234.7,180.4 228.6,180.7 222.6,180.9 216.6,181.0 210.6,181.2 204.6,181.3 198.6,181.3 192.6,181.4 186.6,181.4 180.6,181.4 174.6,181.4 168.6,181.4 162.6,181.3 156.6,181.2 150.6,181.0 144.7,180.9 138.7,180.6 132.6,180.3 126.5,180.0 120.3,179.6 114.1,179.2 107.8,178.7 101.6,178.0 95.2,177.2 88.8,176.2 82.4,175.1 76.1,173.9 70.0,172.7 63.7,171.2 57.0,169.5 50.7,167.8 45.4,166.3 41.6,165.3 Z" fill="#5a6cbc"/>
<path d="M41.6,165.3 45.4,166.3 50.7,167.8 57.0,169.5 63.7,171.2 70.0,172.7 76.1,173.9 82.4,175.1 88.8,176.2 95.2,177.2 101.6,178.0 107.8,178.7 114.1,179.2 120.3,179.6 126.5,180.0 132.6,180.3 138.7,180.6 144.7,180.9 150.6,181.0 156.6,181.2 162.6,181.3 168.6,181.4 174.6,181.4 180.6,181.4 186.6,181.4 192.6,181.4 198.6,181.3 204.6,181.3 210.6,181.2 216.6,181.0 222.6,180.9 228.6,180.7 234.7,180.4 240.8,180.1 246.8,179.9 252.6,179.6 258.3,179.3 263.9,179.0 269.4,178.7 274.8,178.4 280.0,178.0 285.0,177.6 289.9,177.2 294.6,176.7 299.1,176.2 303.4,175.6 307.8,174.8 312.3,173.9 316.4,173.0 319.9,172.2 322.4,171.6 322.1,177.9 319.6,178.6 316.1,179.7 311.9,180.9 307.5,182.0 303.1,183.0 298.8,183.8 294.3,184.5 289.7,185.1 284.9,185.6 280.0,186.1 274.9,186.6 269.7,187.0 264.3,187.4 258.8,187.8 253.2,188.1 247.4,188.5 241.4,188.8 235.3,189.2 229.2,189.5 223.2,189.7 217.2,189.9 211.2,190.1 205.2,190.2 199.2,190.3 193.2,190.3 187.2,190.4 181.2,190.4 175.1,190.4 169.2,190.3 163.2,190.2 157.2,190.1 151.2,189.9 145.2,189.7 139.2,189.4 133.2,189.1 127.0,188.7 120.8,188.2 114.5,187.7 108.2,187.1 101.9,186.3 95.5,185.2 89.0,184.1 82.6,182.8 76.2,181.3 70.0,179.8 63.6,178.0 56.8,176.0 50.4,173.9 44.9,172.1 41.0,170.8 Z" fill="#8ccce8"/>
<path d="M41.0,170.8 44.9,172.1 50.4,173.9 56.8,176.0 63.6,178.0 70.0,179.8 76.2,181.3 82.6,182.8 89.0,184.1 95.5,185.2 101.9,186.2 108.2,187.1 114.5,187.7 120.8,188.2 127.0,188.7 133.2,189.1 139.2,189.4 145.2,189.7 151.2,189.9 157.2,190.1 163.2,190.2 169.2,190.3 175.2,190.4 181.2,190.4 187.2,190.4 193.2,190.3 199.2,190.3 205.2,190.2 211.2,190.1 217.2,189.9 223.2,189.7 229.2,189.5 235.3,189.2 241.4,188.8 247.4,188.5 253.2,188.1 258.8,187.8 264.3,187.4 269.7,187.0 274.9,186.6 280.0,186.1 284.9,185.6 289.7,185.1 294.3,184.5 298.8,183.8 303.1,183.0 307.5,182.0 311.9,180.9 316.1,179.7 319.6,178.6 322.1,177.9 321.7,185.3 319.2,186.2 315.7,187.6 311.5,189.1 307.1,190.6 302.7,191.8 298.5,192.8 294.1,193.6 289.5,194.4 284.8,195.1 280.0,195.7 275.0,196.3 270.0,196.9 264.7,197.4 259.3,197.8 253.8,198.3 248.0,198.7 242.1,199.1 236.0,199.5 229.9,199.9 223.8,200.2 217.8,200.4 211.8,200.6 205.8,200.8 199.8,200.9 193.8,200.9 187.8,201.0 181.8,201.0 175.8,201.0 169.8,200.9 163.8,200.8 157.8,200.6 151.9,200.4 145.9,200.2 139.9,199.8 133.8,199.4 127.6,198.9 121.3,198.4 115.0,197.8 108.7,197.0 102.3,196.0 95.8,194.8 89.3,193.4 82.8,191.8 76.3,190.1 70.0,188.2 63.4,186.1 56.6,183.6 50.0,181.1 44.4,178.9 40.4,177.4 Z" fill="url(#g11)"/>
<path d="M40.4,177.4 44.4,178.9 50.0,181.1 56.6,183.6 63.4,186.1 70.0,188.2 76.3,190.1 82.8,191.8 89.3,193.4 95.8,194.8 102.3,196.0 108.7,197.0 115.0,197.8 121.3,198.4 127.6,198.9 133.8,199.4 139.9,199.8 145.9,200.2 151.9,200.4 157.8,200.6 163.8,200.8 169.8,200.9 175.8,201.0 181.8,201.0 187.8,201.0 193.8,200.9 199.8,200.9 205.8,200.8 211.8,200.6 217.8,200.4 223.8,200.2 229.9,199.9 236.0,199.5 242.1,199.1 248.0,198.7 253.8,198.3 259.3,197.8 264.7,197.4 270.0,196.9 275.0,196.3 280.0,195.7 284.8,195.1 289.5,194.4 294.1,193.6 298.5,192.8 302.7,191.8 307.1,190.6 311.5,189.1 315.7,187.6 319.2,186.2 321.7,185.3 321.5,189.9 319.0,190.9 315.4,192.4 311.2,194.1 306.8,195.8 302.5,197.2 298.3,198.3 293.9,199.3 289.4,200.1 284.8,200.9 280.0,201.7 275.1,202.3 270.1,203.0 265.0,203.5 259.7,204.0 254.2,204.5 248.5,205.0 242.5,205.5 236.4,205.9 230.3,206.3 224.2,206.6 218.2,206.9 212.2,207.1 206.2,207.3 200.2,207.4 194.2,207.5 188.2,207.5 182.2,207.5 176.2,207.5 170.2,207.4 164.2,207.3 158.2,207.1 152.3,206.9 146.3,206.6 140.3,206.2 134.2,205.8 128.0,205.2 121.7,204.7 115.3,204.0 108.9,203.1 102.5,202.0 96.0,200.6 89.4,199.1 82.9,197.3 76.4,195.4 70.0,193.4 63.4,191.1 56.4,188.3 49.8,185.5 44.1,183.1 40.1,181.4 Z" fill="url(#g12)"/>
<path d="M40.1,181.4 44.1,183.1 49.8,185.5 56.4,188.3 63.4,191.1 70.0,193.4 76.4,195.4 82.9,197.3 89.4,199.1 96.0,200.6 102.5,202.0 108.9,203.1 115.3,204.0 121.7,204.7 128.0,205.2 134.2,205.8 140.3,206.2 146.3,206.6 152.3,206.9 158.2,207.1 164.2,207.3 170.2,207.4 176.2,207.5 182.2,207.5 188.2,207.5 194.2,207.5 200.2,207.4 206.2,207.3 212.2,207.1 218.2,206.9 224.2,206.6 230.3,206.3 236.4,205.9 242.5,205.5 248.5,205.0 254.2,204.5 259.7,204.0 265.0,203.5 270.1,203.0 275.1,202.3 280.0,201.7 284.8,200.9 289.4,200.1 293.9,199.3 298.3,198.3 302.5,197.2 306.8,195.8 311.2,194.1 315.4,192.4 319.0,190.9 321.5,189.9 321.1,197.3 318.6,198.5 315.0,200.3 310.8,202.3 306.4,204.3 302.1,206.0 297.9,207.3 293.6,208.4 289.2,209.5 284.7,210.4 280.0,211.3 275.2,212.1 270.4,212.8 265.4,213.5 260.2,214.1 254.8,214.7 249.2,215.2 243.2,215.8 237.1,216.3 230.9,216.7 224.8,217.1 218.9,217.4 212.8,217.6 206.8,217.8 200.8,218.0 194.8,218.1 188.8,218.1 182.8,218.1 176.8,218.1 170.8,218.0 164.8,217.9 158.9,217.7 152.9,217.4 147.0,217.1 141.0,216.7 134.8,216.1 128.6,215.5 122.3,214.8 115.8,214.0 109.4,213.0 102.9,211.8 96.4,210.2 89.7,208.4 83.0,206.4 76.4,204.2 70.0,201.9 63.2,199.1 56.1,195.9 49.4,192.7 43.6,189.9 39.4,188.0 Z" fill="url(#g13)"/>
<path d="M39.4,188.0 43.6,189.9 49.4,192.7 56.1,195.9 63.2,199.1 70.0,201.9 76.4,204.2 83.0,206.4 89.7,208.4 96.4,210.2 102.9,211.8 109.4,213.0 115.8,214.0 122.3,214.8 128.6,215.5 134.8,216.1 141.0,216.7 147.0,217.1 152.9,217.4 158.9,217.7 164.8,217.9 170.8,218.0 176.8,218.1 182.8,218.1 188.8,218.1 194.8,218.1 200.8,218.0 206.8,217.8 212.8,217.6 218.8,217.4 224.8,217.1 230.9,216.7 237.1,216.3 243.2,215.8 249.2,215.2 254.8,214.7 260.2,214.1 265.4,213.5 270.4,212.8 275.2,212.1 280.0,211.3 284.7,210.4 289.2,209.5 293.6,208.4 297.9,207.3 302.1,206.0 306.4,204.3 310.8,202.3 315.0,200.3 318.6,198.5 321.1,197.3 321.0,199.0 318.5,200.3 314.9,202.1 310.7,204.2 306.3,206.3 302.0,208.0 297.8,209.4 293.6,210.5 289.2,211.6 284.6,212.6 280.0,213.5 275.3,214.3 270.5,215.1 265.5,215.8 260.4,216.4 255.0,217.0 249.3,217.6 243.4,218.1 237.2,218.7 231.1,219.1 225.0,219.5 219.0,219.8 213.0,220.1 207.0,220.3 201.0,220.4 195.0,220.5 189.0,220.6 183.0,220.6 177.0,220.6 171.0,220.5 165.0,220.3 159.0,220.1 153.1,219.8 147.1,219.5 141.1,219.1 135.0,218.5 128.7,217.9 122.4,217.2 116.0,216.3 109.5,215.3 103.0,214.0 96.4,212.4 89.8,210.5 83.1,208.4 76.5,206.2 70.0,203.8 63.2,201.0 56.1,197.7 49.3,194.4 43.4,191.5 39.3,189.5 Z" fill="url(#g14)"/>
<path d="M45.7,140.5 47.0,140.6 46.3,148.9 45.0,148.8 Z" fill="#80bce8" fill-opacity="0.70"/>
<path d="M48.7,140.6 50.3,140.6 49.7,149.3 48.1,149.1 Z" fill="#80bce8" fill-opacity="0.70"/>
<path d="M52.4,140.7 54.1,140.7 53.7,149.7 51.9,149.5 Z" fill="#80bce8" fill-opacity="0.70"/>
<path d="M56.4,140.7 58.3,140.8 58.0,150.2 56.1,150.0 Z" fill="#80bce8" fill-opacity="0.70"/>
<path d="M60.7,140.8 62.7,140.8 62.5,150.6 60.5,150.4 Z" fill="#80bce8" fill-opacity="0.70"/>
<path d="M65.1,140.9 67.0,140.9 66.9,151.1 65.0,150.9 Z" fill="#80bce8" fill-opacity="0.70"/>
<path d="M69.3,140.9 71.1,141.0 71.1,151.4 69.3,151.3 Z" fill="#80bce8" fill-opacity="0.70"/>
<path d="M73.4,141.0 75.2,141.0 75.3,151.7 73.4,151.6 Z" fill="#80bce8" fill-opacity="0.70"/>
<path d="M77.6,141.0 79.5,141.1 79.7,152.0 77.7,151.9 Z" fill="#80bce8" fill-opacity="0.70"/>
<path d="M81.8,141.1 83.8,141.1 84.1,152.3 82.1,152.2 Z" fill="#80bce8" fill-opacity="0.70"/>
<path d="M86.2,141.1 88.2,141.1 88.5,152.6 86.5,152.5 Z" fill="#80bce8" fill-opacity="0.70"/>
<path d="M90.6,141.2 92.6,141.2 92.9,152.9 90.9,152.8 Z" fill="#80bce8" fill-opacity="0.70"/>
<path d="M95.0,141.2 96.9,141.2 97.4,153.1 95.4,153.0 Z" fill="#80bce8" fill-opacity="0.70"/>
<path d="M99.3,141.2 101.2,141.3 101.7,153.3 99.8,153.2 Z" fill="#80bce8" fill-opacity="0.70"/>
<path d="M103.6,141.3 105.5,141.3 106.1,153.5 104.1,153.4 Z" fill="#80bce8" fill-opacity="0.70"/>
<path d="M107.9,141.3 109.8,141.3 110.4,153.6 108.5,153.6 Z" fill="#80bce8" fill-opacity="0.70"/>
<path d="M112.2,141.3 114.1,141.3 114.8,153.8 112.8,153.7 Z" fill="#80bce8" fill-opacity="0.70"/>
<path d="M116.5,141.3 118.4,141.3 119.1,153.9 117.2,153.8 Z" fill="#80bce8" fill-opacity="0.70"/>
<path d="M120.8,141.4 122.7,141.4 123.4,154.0 121.5,153.9 Z" fill="#80bce8" fill-opacity="0.70"/>
<path d="M125.1,141.4 127.0,141.4 127.8,154.0 125.8,154.0 Z" fill="#80bce8" fill-opacity="0.70"/>
<path d="M129.3,141.4 131.3,141.4 132.1,154.1 130.1,154.1 Z" fill="#80bce8" fill-opacity="0.70"/>
<path d="M133.6,141.4 135.6,141.4 136.4,154.2 134.4,154.2 Z" fill="#80bce8" fill-opacity="0.70"/>
<path d="M137.9,141.4 139.8,141.4 140.7,154.3 138.7,154.2 Z" fill="#80bce8" fill-opacity="0.70"/>
<path d="M142.2,141.4 144.1,141.4 144.9,154.3 143.0,154.3 Z" fill="#80bce8" fill-opacity="0.70"/>
<path d="M146.5,141.4 148.4,141.4 149.2,154.4 147.3,154.3 Z" fill="#80bce8" fill-opacity="0.70"/>
<path d="M150.8,141.4 152.7,141.4 153.5,154.4 151.6,154.4 Z" fill="#80bce8" fill-opacity="0.70"/>
<path d="M155.0,141.4 157.0,141.4 157.8,154.4 155.8,154.4 Z" fill="#80bce8" fill-opacity="0.70"/>
<path d="M159.3,141.4 161.3,141.4 162.1,154.5 160.1,154.4 Z" fill="#80bce8" fill-opacity="0.70"/>
<path d="M163.6,141.4 165.5,141.4 166.3,154.5 164.4,154.5 Z" fill="#80bce8" fill-opacity="0.70"/>
<path d="M167.9,141.4 169.8,141.4 170.6,154.5 168.7,154.5 Z" fill="#80bce8" fill-opacity="0.70"/>
<path d="M172.2,141.4 174.1,141.4 174.9,154.5 173.0,154.5 Z" fill="#80bce8" fill-opacity="0.70"/>
<path d="M176.5,141.4 178.4,141.4 179.2,154.5 177.3,154.5 Z" fill="#80bce8" fill-opacity="0.70"/>
<path d="M180.7,141.4 182.7,141.4 183.5,154.5 181.5,154.5 Z" fill="#80bce8" fill-opacity="0.70"/>
<path d="M185.0,141.4 186.9,141.4 187.7,154.5 185.8,154.5 Z" fill="#80bce8" fill-opacity="0.70"/>
<path d="M189.3,141.4 191.2,141.4 192.0,154.5 190.1,154.5 Z" fill="#80bce8" fill-opacity="0.70"/>
<path d="M193.6,141.4 195.5,141.4 196.3,154.5 194.4,154.5 Z" fill="#80bce8" fill-opacity="0.70"/>
<path d="M197.9,141.4 199.8,141.4 200.6,154.5 198.7,154.5 Z" fill="#80bce8" fill-opacity="0.70"/>
<path d="M202.1,141.4 204.1,141.4 204.9,154.4 202.9,154.4 Z" fill="#80bce8" fill-opacity="0.70"/>
<path d="M206.4,141.4 208.4,141.4 209.2,154.4 207.2,154.4 Z" fill="#80bce8" fill-opacity="0.70"/>
<path d="M210.7,141.4 212.6,141.4 213.4,154.4 211.5,154.4 Z" fill="#80bce8" fill-opacity="0.70"/>
<path d="M215.0,141.4 216.9,141.4 217.7,154.3 215.8,154.3 Z" fill="#80bce8" fill-opacity="0.70"/>
<path d="M219.3,141.4 221.2,141.4 222.0,154.3 220.1,154.3 Z" fill="#80bce8" fill-opacity="0.70"/>
<path d="M223.6,141.4 225.5,141.4 226.3,154.2 224.4,154.3 Z" fill="#80bce8" fill-opacity="0.70"/>
<path d="M227.8,141.4 229.8,141.4 230.6,154.2 228.7,154.2 Z" fill="#80bce8" fill-opacity="0.70"/>
<path d="M232.1,141.4 234.1,141.4 234.9,154.1 233.0,154.1 Z" fill="#80bce8" fill-opacity="0.70"/>
<path d="M236.4,141.3 238.3,141.3 239.2,154.0 237.3,154.0 Z" fill="#80bce8" fill-opacity="0.70"/>
<path d="M240.7,141.3 242.6,141.3 243.5,153.9 241.6,154.0 Z" fill="#80bce8" fill-opacity="0.70"/>
<path d="M245.0,141.3 246.9,141.3 247.7,153.9 245.8,153.9 Z" fill="#80bce8" fill-opacity="0.70"/>
<path d="M249.3,141.3 251.2,141.3 252.0,153.8 250.1,153.8 Z" fill="#80bce8" fill-opacity="0.70"/>
<path d="M253.6,141.4 255.5,141.4 256.2,153.8 254.3,153.8 Z" fill="#80bce8" fill-opacity="0.70"/>
<path d="M257.9,141.4 259.9,141.4 260.5,153.7 258.6,153.7 Z" fill="#80bce8" fill-opacity="0.70"/>
<path d="M262.3,141.4 264.2,141.5 264.7,153.7 262.8,153.7 Z" fill="#80bce8" fill-opacity="0.70"/>
<path d="M266.6,141.5 268.6,141.5 268.9,153.7 267.0,153.7 Z" fill="#80bce8" fill-opacity="0.70"/>
<path d="M270.9,141.6 272.8,141.6 273.0,153.6 271.2,153.6 Z" fill="#80bce8" fill-opacity="0.70"/>
<path d="M275.1,141.6 277.0,141.7 277.0,153.6 275.2,153.6 Z" fill="#80bce8" fill-opacity="0.70"/>
<path d="M279.2,141.7 280.9,141.7 280.9,153.6 279.2,153.6 Z" fill="#80bce8" fill-opacity="0.70"/>
<path d="M283.0,141.8 284.8,141.8 284.7,153.5 283.0,153.5 Z" fill="#80bce8" fill-opacity="0.70"/>
<path d="M286.8,141.9 288.5,141.9 288.3,153.5 286.7,153.5 Z" fill="#80bce8" fill-opacity="0.70"/>
<path d="M290.5,142.0 292.2,142.0 291.9,153.5 290.3,153.5 Z" fill="#80bce8" fill-opacity="0.70"/>
<path d="M294.1,142.1 295.7,142.2 295.4,153.4 293.8,153.4 Z" fill="#80bce8" fill-opacity="0.70"/>
<path d="M297.6,142.2 299.1,142.3 298.7,153.4 297.2,153.4 Z" fill="#80bce8" fill-opacity="0.70"/>
<path d="M301.0,142.4 302.5,142.4 302.0,153.4 300.6,153.4 Z" fill="#80bce8" fill-opacity="0.70"/>
<path d="M304.2,142.5 305.6,142.6 305.1,153.3 303.7,153.3 Z" fill="#80bce8" fill-opacity="0.70"/>
<path d="M307.4,142.6 308.8,142.7 308.3,153.2 306.9,153.3 Z" fill="#80bce8" fill-opacity="0.70"/>
<path d="M310.6,142.8 312.0,142.9 311.5,153.2 310.1,153.2 Z" fill="#80bce8" fill-opacity="0.70"/>
<path d="M313.8,143.0 315.2,143.1 314.6,153.1 313.3,153.1 Z" fill="#80bce8" fill-opacity="0.70"/>
<path d="M316.8,143.2 318.0,143.3 317.5,153.0 316.3,153.0 Z" fill="#80bce8" fill-opacity="0.70"/>
<path d="M319.5,143.4 320.6,143.5 320.1,152.9 319.0,153.0 Z" fill="#80bce8" fill-opacity="0.70"/>
<path d="M321.8,143.6 322.7,143.6 322.2,152.9 321.3,152.9 Z" fill="#80bce8" fill-opacity="0.70"/>
<path d="M44.2,145.1 44.8,146.2 44.5,148.7 43.8,149.7 43.3,148.6 43.5,146.1 Z" fill="#4252aa" fill-opacity="0.70"/>
<path d="M47.0,145.3 47.8,146.4 47.6,149.1 46.7,150.0 45.9,148.9 46.1,146.3 Z" fill="#4252aa" fill-opacity="0.70"/>
<path d="M50.6,145.6 51.6,146.7 51.5,149.5 50.3,150.5 49.4,149.3 49.5,146.6 Z" fill="#4252aa" fill-opacity="0.70"/>
<path d="M54.8,145.8 55.9,147.1 55.8,150.0 54.6,151.0 53.5,149.7 53.6,146.9 Z" fill="#4252aa" fill-opacity="0.70"/>
<path d="M59.3,146.1 60.5,147.4 60.4,150.4 59.1,151.5 58.0,150.2 58.1,147.2 Z" fill="#4252aa" fill-opacity="0.70"/>
<path d="M63.9,146.4 65.1,147.8 65.1,150.9 63.8,152.0 62.6,150.6 62.7,147.6 Z" fill="#4252aa" fill-opacity="0.70"/>
<path d="M68.4,146.7 69.5,148.0 69.5,151.3 68.4,152.5 67.2,151.1 67.3,147.9 Z" fill="#4252aa" fill-opacity="0.70"/>
<path d="M72.7,146.9 73.9,148.3 73.9,151.6 72.7,152.8 71.6,151.4 71.6,148.2 Z" fill="#4252aa" fill-opacity="0.70"/>
<path d="M77.1,147.1 78.3,148.5 78.3,151.9 77.2,153.2 76.0,151.8 76.0,148.4 Z" fill="#4252aa" fill-opacity="0.70"/>
<path d="M81.6,147.3 82.8,148.8 82.9,152.3 81.7,153.6 80.5,152.1 80.5,148.6 Z" fill="#4252aa" fill-opacity="0.70"/>
<path d="M86.2,147.5 87.4,149.0 87.5,152.6 86.4,153.9 85.1,152.4 85.0,148.9 Z" fill="#4252aa" fill-opacity="0.70"/>
<path d="M90.8,147.7 92.1,149.2 92.2,152.8 91.0,154.2 89.7,152.7 89.6,149.1 Z" fill="#4252aa" fill-opacity="0.70"/>
<path d="M95.4,147.8 96.6,149.4 96.8,153.1 95.6,154.5 94.4,152.9 94.2,149.3 Z" fill="#4252aa" fill-opacity="0.70"/>
<path d="M99.9,148.0 101.2,149.5 101.3,153.3 100.2,154.7 99.0,153.2 98.8,149.4 Z" fill="#4252aa" fill-opacity="0.70"/>
<path d="M104.5,148.1 105.7,149.7 105.9,153.5 104.8,154.9 103.5,153.4 103.3,149.6 Z" fill="#4252aa" fill-opacity="0.62"/>
<path d="M109.0,148.2 110.2,149.8 110.4,153.6 109.3,155.1 108.0,153.5 107.9,149.7 Z" fill="#4252aa" fill-opacity="0.55"/>
<path d="M113.5,148.3 114.7,149.9 114.9,153.8 113.8,155.3 112.6,153.7 112.4,149.8 Z" fill="#4252aa" fill-opacity="0.47"/>
<path d="M118.0,148.4 119.2,150.0 119.5,153.9 118.4,155.4 117.1,153.8 116.9,149.9 Z" fill="#4252aa" fill-opacity="0.40"/>
<path d="M122.5,148.4 123.7,150.0 124.0,154.0 122.9,155.5 121.6,153.9 121.4,150.0 Z" fill="#4252aa" fill-opacity="0.32"/>
<path d="M126.9,148.5 128.2,150.1 128.5,154.1 127.4,155.6 126.1,154.0 125.9,150.1 Z" fill="#4252aa" fill-opacity="0.25"/>
<path d="M131.4,148.6 132.7,150.2 133.0,154.1 131.9,155.7 130.6,154.1 130.4,150.1 Z" fill="#4252aa" fill-opacity="0.17"/>
<path d="M135.9,148.6 137.2,150.2 137.4,154.2 136.4,155.8 135.1,154.2 134.8,150.2 Z" fill="#4252aa" fill-opacity="0.15"/>
<path d="M140.4,148.6 141.6,150.3 141.9,154.3 140.8,155.9 139.6,154.2 139.3,150.2 Z" fill="#4252aa" fill-opacity="0.15"/>
<path d="M144.8,148.7 146.1,150.3 146.4,154.3 145.3,155.9 144.0,154.3 143.8,150.3 Z" fill="#4252aa" fill-opacity="0.15"/>
<path d="M149.3,148.7 150.6,150.3 150.8,154.4 149.7,156.0 148.5,154.4 148.2,150.3 Z" fill="#4252aa" fill-opacity="0.15"/>
<path d="M153.7,148.7 155.0,150.4 155.3,154.4 154.2,156.0 152.9,154.4 152.7,150.3 Z" fill="#4252aa" fill-opacity="0.15"/>
<path d="M158.2,148.7 159.5,150.4 159.7,154.4 158.6,156.1 157.4,154.4 157.1,150.4 Z" fill="#4252aa" fill-opacity="0.15"/>
<path d="M162.7,148.8 163.9,150.4 164.2,154.5 163.1,156.1 161.8,154.5 161.6,150.4 Z" fill="#4252aa" fill-opacity="0.15"/>
<path d="M167.1,148.8 168.4,150.4 168.6,154.5 167.6,156.1 166.3,154.5 166.1,150.4 Z" fill="#4252aa" fill-opacity="0.15"/>
<path d="M171.6,148.8 172.9,150.4 173.1,154.5 172.0,156.1 170.8,154.5 170.5,150.4 Z" fill="#4252aa" fill-opacity="0.15"/>
<path d="M176.0,148.8 177.3,150.4 177.6,154.5 176.5,156.1 175.2,154.5 175.0,150.4 Z" fill="#4252aa" fill-opacity="0.15"/>
<path d="M180.5,148.8 181.8,150.4 182.0,154.5 181.0,156.1 179.7,154.5 179.4,150.4 Z" fill="#4252aa" fill-opacity="0.15"/>
<path d="M185.0,148.8 186.2,150.4 186.5,154.5 185.4,156.1 184.2,154.5 183.9,150.4 Z" fill="#4252aa" fill-opacity="0.15"/>
<path d="M189.4,148.8 190.7,150.4 190.9,154.5 189.9,156.1 188.6,154.5 188.4,150.4 Z" fill="#4252aa" fill-opacity="0.15"/>
<path d="M193.9,148.8 195.2,150.4 195.4,154.5 194.3,156.1 193.1,154.5 192.8,150.4 Z" fill="#4252aa" fill-opacity="0.15"/>
<path d="M198.4,148.8 199.6,150.4 199.9,154.5 198.8,156.1 197.5,154.5 197.3,150.4 Z" fill="#4252aa" fill-opacity="0.15"/>
<path d="M202.8,148.8 204.1,150.4 204.3,154.4 203.3,156.1 202.0,154.4 201.7,150.4 Z" fill="#4252aa" fill-opacity="0.15"/>
<path d="M207.3,148.7 208.5,150.3 208.8,154.4 207.7,156.0 206.5,154.4 206.2,150.4 Z" fill="#4252aa" fill-opacity="0.15"/>
<path d="M211.7,148.7 213.0,150.3 213.3,154.4 212.2,156.0 210.9,154.4 210.7,150.3 Z" fill="#4252aa" fill-opacity="0.15"/>
<path d="M216.2,148.7 217.5,150.3 217.7,154.3 216.7,156.0 215.4,154.4 215.1,150.3 Z" fill="#4252aa" fill-opacity="0.15"/>
<path d="M220.7,148.7 221.9,150.3 222.2,154.3 221.1,155.9 219.8,154.3 219.6,150.3 Z" fill="#4252aa" fill-opacity="0.15"/>
<path d="M225.1,148.6 226.4,150.2 226.7,154.2 225.6,155.8 224.3,154.3 224.1,150.2 Z" fill="#4252aa" fill-opacity="0.15"/>
<path d="M229.6,148.6 230.9,150.2 231.1,154.1 230.1,155.8 228.8,154.2 228.5,150.2 Z" fill="#4252aa" fill-opacity="0.15"/>
<path d="M234.1,148.5 235.4,150.1 235.6,154.1 234.6,155.7 233.3,154.1 233.0,150.1 Z" fill="#4252aa" fill-opacity="0.15"/>
<path d="M238.6,148.5 239.8,150.0 240.1,154.0 239.0,155.6 237.8,154.0 237.5,150.1 Z" fill="#4252aa" fill-opacity="0.15"/>
<path d="M243.0,148.4 244.3,150.0 244.6,153.9 243.5,155.5 242.2,154.0 242.0,150.0 Z" fill="#4252aa" fill-opacity="0.15"/>
<path d="M247.5,148.4 248.7,149.9 249.0,153.8 247.9,155.4 246.7,153.9 246.4,150.0 Z" fill="#4252aa" fill-opacity="0.15"/>
<path d="M251.9,148.4 253.1,149.9 253.4,153.8 252.3,155.4 251.1,153.8 250.8,149.9 Z" fill="#4252aa" fill-opacity="0.15"/>
<path d="M256.4,148.3 257.6,149.9 257.8,153.7 256.7,155.3 255.5,153.8 255.3,149.9 Z" fill="#4252aa" fill-opacity="0.15"/>
<path d="M260.8,148.3 262.1,149.9 262.3,153.7 261.2,155.3 259.9,153.7 259.7,149.9 Z" fill="#4252aa" fill-opacity="0.15"/>
<path d="M265.3,148.3 266.5,149.9 266.7,153.7 265.6,155.2 264.4,153.7 264.2,149.9 Z" fill="#4252aa" fill-opacity="0.15"/>
<path d="M269.7,148.3 270.9,149.9 271.0,153.6 269.9,155.2 268.7,153.7 268.6,149.9 Z" fill="#4252aa" fill-opacity="0.15"/>
<path d="M274.1,148.4 275.2,149.9 275.2,153.6 274.2,155.1 273.0,153.6 273.0,149.9 Z" fill="#4252aa" fill-opacity="0.15"/>
<path d="M278.2,148.4 279.3,149.9 279.3,153.6 278.3,155.1 277.2,153.6 277.2,149.9 Z" fill="#4252aa" fill-opacity="0.15"/>
<path d="M282.3,148.4 283.3,149.9 283.3,153.5 282.2,155.0 281.2,153.5 281.2,149.9 Z" fill="#4252aa" fill-opacity="0.15"/>
<path d="M286.2,148.4 287.2,149.9 287.1,153.5 286.1,155.0 285.1,153.5 285.2,149.9 Z" fill="#4252aa" fill-opacity="0.15"/>
<path d="M290.0,148.4 291.0,149.9 290.9,153.5 289.9,154.9 288.9,153.5 289.0,149.9 Z" fill="#4252aa" fill-opacity="0.15"/>
<path d="M293.7,148.5 294.6,149.9 294.5,153.4 293.6,154.9 292.6,153.5 292.7,149.9 Z" fill="#4252aa" fill-opacity="0.15"/>
<path d="M297.3,148.5 298.2,149.9 298.1,153.4 297.1,154.8 296.2,153.4 296.3,149.9 Z" fill="#4252aa" fill-opacity="0.15"/>
<path d="M300.8,148.6 301.6,149.9 301.5,153.4 300.6,154.8 299.7,153.4 299.8,149.9 Z" fill="#4252aa" fill-opacity="0.15"/>
<path d="M304.1,148.6 304.9,150.0 304.8,153.3 303.9,154.7 303.1,153.3 303.2,149.9 Z" fill="#4252aa" fill-opacity="0.15"/>
<path d="M307.4,148.6 308.2,150.0 308.1,153.3 307.1,154.6 306.3,153.3 306.5,150.0 Z" fill="#4252aa" fill-opacity="0.15"/>
<path d="M310.8,148.7 311.6,150.0 311.4,153.2 310.5,154.5 309.7,153.2 309.8,150.0 Z" fill="#4252aa" fill-opacity="0.15"/>
<path d="M314.1,148.7 314.8,150.0 314.7,153.1 313.8,154.4 313.0,153.1 313.1,150.0 Z" fill="#4252aa" fill-opacity="0.15"/>
<path d="M317.1,148.8 317.8,150.0 317.7,153.0 316.8,154.2 316.1,153.0 316.3,150.0 Z" fill="#4252aa" fill-opacity="0.15"/>
<path d="M319.9,148.8 320.5,150.0 320.3,152.9 319.6,154.1 319.0,153.0 319.1,150.0 Z" fill="#4252aa" fill-opacity="0.15"/>
<path d="M322.1,148.8 322.6,150.0 322.4,152.9 321.9,154.0 321.4,152.9 321.5,150.0 Z" fill="#4252aa" fill-opacity="0.15"/>
<path d="M42.3,157.7 42.5,160.3 42.3,162.9 41.6,165.3 41.3,162.6 41.6,160.1 Z" fill="#88c4e8" fill-opacity="0.85"/>
<path d="M44.9,158.2 45.4,161.0 45.2,163.6 44.3,166.0 43.8,163.2 44.0,160.6 Z" fill="#88c4e8" fill-opacity="0.85"/>
<path d="M48.5,158.9 49.2,161.8 49.0,164.6 47.9,167.0 47.2,164.1 47.4,161.4 Z" fill="#88c4e8" fill-opacity="0.85"/>
<path d="M52.7,159.8 53.6,162.8 53.5,165.7 52.3,168.2 51.4,165.2 51.6,162.4 Z" fill="#88c4e8" fill-opacity="0.85"/>
<path d="M57.4,160.7 58.4,163.9 58.3,166.9 57.1,169.5 56.1,166.3 56.2,163.4 Z" fill="#88c4e8" fill-opacity="0.85"/>
<path d="M62.3,161.7 63.3,164.9 63.3,168.0 62.1,170.8 61.0,167.5 61.1,164.5 Z" fill="#88c4e8" fill-opacity="0.85"/>
<path d="M67.1,162.5 68.1,165.9 68.1,169.1 67.0,172.0 65.9,168.6 66.0,165.5 Z" fill="#88c4e8" fill-opacity="0.85"/>
<path d="M71.6,163.2 72.6,166.7 72.6,170.0 71.6,173.0 70.6,169.6 70.6,166.3 Z" fill="#88c4e8" fill-opacity="0.85"/>
<path d="M76.1,163.9 77.2,167.4 77.3,170.8 76.3,174.0 75.2,170.4 75.1,167.1 Z" fill="#88c4e8" fill-opacity="0.85"/>
<path d="M80.8,164.5 81.9,168.1 82.0,171.6 81.0,174.9 79.9,171.2 79.8,167.8 Z" fill="#88c4e8" fill-opacity="0.85"/>
<path d="M85.5,165.1 86.7,168.8 86.8,172.3 85.8,175.7 84.6,172.0 84.5,168.5 Z" fill="#88c4e8" fill-opacity="0.85"/>
<path d="M90.3,165.7 91.5,169.4 91.6,173.0 90.6,176.5 89.4,172.7 89.3,169.1 Z" fill="#88c4e8" fill-opacity="0.85"/>
<path d="M95.1,166.2 96.3,170.0 96.4,173.7 95.4,177.2 94.2,173.4 94.1,169.7 Z" fill="#88c4e8" fill-opacity="0.85"/>
<path d="M99.8,166.6 101.0,170.5 101.1,174.2 100.2,177.8 99.0,174.0 98.9,170.3 Z" fill="#88c4e8" fill-opacity="0.85"/>
<path d="M104.4,167.0 105.7,170.9 105.8,174.7 104.9,178.4 103.7,174.5 103.5,170.7 Z" fill="#88c4e8" fill-opacity="0.85"/>
<path d="M109.1,167.4 110.3,171.3 110.5,175.1 109.6,178.8 108.4,174.9 108.2,171.1 Z" fill="#88c4e8" fill-opacity="0.85"/>
<path d="M113.7,167.6 115.0,171.6 115.2,175.4 114.3,179.2 113.1,175.3 112.9,171.4 Z" fill="#88c4e8" fill-opacity="0.85"/>
<path d="M118.4,167.9 119.6,171.8 119.9,175.7 119.0,179.6 117.8,175.6 117.5,171.7 Z" fill="#88c4e8" fill-opacity="0.85"/>
<path d="M123.0,168.1 124.3,172.0 124.5,176.0 123.7,179.9 122.4,175.9 122.2,171.9 Z" fill="#88c4e8" fill-opacity="0.85"/>
<path d="M127.6,168.3 128.9,172.3 129.1,176.2 128.3,180.1 127.0,176.1 126.8,172.2 Z" fill="#88c4e8" fill-opacity="0.85"/>
<path d="M132.2,168.4 133.5,172.4 133.7,176.4 132.9,180.4 131.7,176.3 131.4,172.4 Z" fill="#88c4e8" fill-opacity="0.85"/>
<path d="M136.7,168.6 138.0,172.6 138.3,176.6 137.5,180.6 136.2,176.5 136.0,172.5 Z" fill="#88c4e8" fill-opacity="0.85"/>
<path d="M141.3,168.7 142.6,172.8 142.8,176.8 142.0,180.8 140.8,176.7 140.5,172.7 Z" fill="#88c4e8" fill-opacity="0.85"/>
<path d="M145.8,168.8 147.1,172.9 147.3,176.9 146.6,180.9 145.3,176.9 145.0,172.8 Z" fill="#88c4e8" fill-opacity="0.85"/>
<path d="M150.3,168.9 151.6,173.0 151.8,177.0 151.0,181.0 149.8,177.0 149.5,172.9 Z" fill="#88c4e8" fill-opacity="0.85"/>
<path d="M154.8,169.0 156.1,173.1 156.3,177.1 155.5,181.1 154.3,177.1 154.0,173.0 Z" fill="#88c4e8" fill-opacity="0.85"/>
<path d="M159.3,169.0 160.6,173.1 160.8,177.2 160.0,181.2 158.8,177.2 158.5,173.1 Z" fill="#88c4e8" fill-opacity="0.85"/>
<path d="M163.8,169.1 165.1,173.2 165.3,177.3 164.6,181.3 163.3,177.2 163.0,173.2 Z" fill="#88c4e8" fill-opacity="0.85"/>
<path d="M168.3,169.1 169.6,173.2 169.8,177.3 169.1,181.4 167.8,177.3 167.5,173.2 Z" fill="#88c4e8" fill-opacity="0.85"/>
<path d="M172.8,169.2 174.1,173.3 174.4,177.3 173.6,181.4 172.3,177.3 172.1,173.2 Z" fill="#88c4e8" fill-opacity="0.85"/>
<path d="M177.4,169.2 178.6,173.3 178.9,177.3 178.1,181.4 176.8,177.3 176.6,173.3 Z" fill="#88c4e8" fill-opacity="0.85"/>
<path d="M181.9,169.2 183.1,173.3 183.4,177.3 182.6,181.4 181.3,177.3 181.1,173.3 Z" fill="#88c4e8" fill-opacity="0.85"/>
<path d="M186.4,169.2 187.7,173.3 187.9,177.3 187.1,181.4 185.9,177.3 185.6,173.3 Z" fill="#88c4e8" fill-opacity="0.85"/>
<path d="M190.9,169.2 192.2,173.2 192.4,177.3 191.7,181.4 190.4,177.3 190.1,173.2 Z" fill="#88c4e8" fill-opacity="0.85"/>
<path d="M195.4,169.1 196.7,173.2 196.9,177.3 196.2,181.4 194.9,177.3 194.6,173.2 Z" fill="#88c4e8" fill-opacity="0.85"/>
<path d="M199.9,169.1 201.2,173.2 201.5,177.2 200.7,181.3 199.4,177.2 199.2,173.2 Z" fill="#88c4e8" fill-opacity="0.85"/>
<path d="M204.5,169.1 205.7,173.1 206.0,177.2 205.2,181.2 203.9,177.2 203.7,173.1 Z" fill="#88c4e8" fill-opacity="0.85"/>
<path d="M209.0,169.0 210.2,173.0 210.5,177.1 209.7,181.2 208.4,177.1 208.2,173.1 Z" fill="#88c4e8" fill-opacity="0.85"/>
<path d="M213.5,168.9 214.8,173.0 215.0,177.0 214.2,181.1 213.0,177.1 212.7,173.0 Z" fill="#88c4e8" fill-opacity="0.85"/>
<path d="M218.0,168.9 219.3,172.9 219.5,176.9 218.8,181.0 217.5,177.0 217.2,172.9 Z" fill="#88c4e8" fill-opacity="0.85"/>
<path d="M222.5,168.8 223.8,172.8 224.0,176.8 223.3,180.8 222.0,176.8 221.7,172.8 Z" fill="#88c4e8" fill-opacity="0.85"/>
<path d="M227.1,168.7 228.3,172.6 228.6,176.6 227.8,180.7 226.5,176.7 226.3,172.7 Z" fill="#88c4e8" fill-opacity="0.85"/>
<path d="M231.6,168.5 232.9,172.5 233.2,176.5 232.4,180.5 231.1,176.6 230.8,172.6 Z" fill="#88c4e8" fill-opacity="0.85"/>
<path d="M236.2,168.4 237.5,172.3 237.7,176.3 237.0,180.3 235.7,176.4 235.4,172.4 Z" fill="#88c4e8" fill-opacity="0.85"/>
<path d="M240.7,168.2 242.0,172.2 242.3,176.1 241.5,180.1 240.2,176.2 240.0,172.2 Z" fill="#88c4e8" fill-opacity="0.85"/>
<path d="M245.2,168.1 246.5,172.0 246.8,175.9 246.0,179.9 244.7,176.0 244.5,172.1 Z" fill="#88c4e8" fill-opacity="0.85"/>
<path d="M249.7,167.9 250.9,171.8 251.2,175.7 250.5,179.7 249.2,175.8 248.9,171.9 Z" fill="#88c4e8" fill-opacity="0.85"/>
<path d="M254.1,167.8 255.3,171.6 255.5,175.5 254.8,179.5 253.6,175.6 253.3,171.7 Z" fill="#88c4e8" fill-opacity="0.85"/>
<path d="M258.4,167.6 259.6,171.5 259.8,175.3 259.1,179.2 257.9,175.4 257.7,171.5 Z" fill="#88c4e8" fill-opacity="0.85"/>
<path d="M262.8,167.5 263.9,171.3 264.1,175.1 263.3,179.0 262.2,175.2 262.0,171.4 Z" fill="#88c4e8" fill-opacity="0.85"/>
<path d="M267.1,167.4 268.2,171.1 268.3,174.9 267.5,178.8 266.4,175.0 266.3,171.2 Z" fill="#88c4e8" fill-opacity="0.85"/>
<path d="M271.3,167.2 272.3,171.0 272.4,174.7 271.6,178.6 270.6,174.8 270.5,171.0 Z" fill="#88c4e8" fill-opacity="0.85"/>
<path d="M275.5,167.1 276.4,170.8 276.4,174.5 275.6,178.3 274.6,174.6 274.6,170.9 Z" fill="#88c4e8" fill-opacity="0.85"/>
<path d="M279.5,166.9 280.4,170.6 280.3,174.3 279.5,178.0 278.6,174.4 278.6,170.7 Z" fill="#88c4e8" fill-opacity="0.85"/>
<path d="M283.4,166.7 284.2,170.3 284.2,174.0 283.3,177.7 282.4,174.1 282.5,170.4 Z" fill="#88c4e8" fill-opacity="0.85"/>
<path d="M287.2,166.5 287.9,170.1 287.9,173.7 287.0,177.4 286.2,173.9 286.3,170.2 Z" fill="#88c4e8" fill-opacity="0.85"/>
<path d="M290.9,166.4 291.6,169.9 291.5,173.4 290.6,177.1 289.9,173.6 290.0,170.0 Z" fill="#88c4e8" fill-opacity="0.85"/>
<path d="M294.5,166.2 295.2,169.6 295.0,173.1 294.2,176.7 293.5,173.3 293.6,169.7 Z" fill="#88c4e8" fill-opacity="0.85"/>
<path d="M298.0,165.9 298.6,169.3 298.5,172.8 297.6,176.4 296.9,173.0 297.1,169.5 Z" fill="#88c4e8" fill-opacity="0.85"/>
<path d="M301.3,165.7 301.9,169.0 301.8,172.4 300.9,176.0 300.3,172.6 300.5,169.2 Z" fill="#88c4e8" fill-opacity="0.85"/>
<path d="M304.6,165.4 305.2,168.7 305.0,172.0 304.2,175.5 303.6,172.2 303.7,168.9 Z" fill="#88c4e8" fill-opacity="0.85"/>
<path d="M307.9,165.1 308.6,168.2 308.4,171.5 307.5,174.9 306.9,171.8 307.0,168.4 Z" fill="#88c4e8" fill-opacity="0.85"/>
<path d="M311.3,164.7 311.9,167.7 311.7,170.9 310.8,174.2 310.2,171.2 310.4,168.0 Z" fill="#88c4e8" fill-opacity="0.85"/>
<path d="M314.6,164.2 315.1,167.2 315.0,170.3 314.1,173.5 313.5,170.6 313.7,167.5 Z" fill="#88c4e8" fill-opacity="0.85"/>
<path d="M317.6,163.8 318.0,166.7 317.9,169.7 317.1,172.9 316.6,170.0 316.8,166.9 Z" fill="#88c4e8" fill-opacity="0.85"/>
<path d="M320.2,163.5 320.5,166.3 320.4,169.2 319.7,172.3 319.3,169.4 319.5,166.5 Z" fill="#88c4e8" fill-opacity="0.85"/>
<path d="M322.2,163.2 322.4,166.0 322.3,168.8 321.8,171.8 321.5,169.0 321.7,166.1 Z" fill="#88c4e8" fill-opacity="0.85"/>
<path d="M41.7,158.6 42.7,158.8 42.1,165.4 41.1,165.1 Z" fill="#3a48a4" fill-opacity="0.60"/>
<path d="M44.1,159.1 45.6,159.4 45.1,166.2 43.5,165.8 Z" fill="#3a48a4" fill-opacity="0.60"/>
<path d="M47.5,159.8 49.4,160.2 48.9,167.3 47.0,166.8 Z" fill="#3a48a4" fill-opacity="0.60"/>
<path d="M51.6,160.7 53.8,161.2 53.4,168.5 51.2,167.9 Z" fill="#3a48a4" fill-opacity="0.60"/>
<path d="M56.2,161.7 58.5,162.1 58.3,169.9 55.9,169.2 Z" fill="#3a48a4" fill-opacity="0.60"/>
<path d="M61.1,162.7 63.4,163.1 63.3,171.1 60.9,170.5 Z" fill="#3a48a4" fill-opacity="0.60"/>
<path d="M65.9,163.6 68.2,164.0 68.1,172.3 65.9,171.8 Z" fill="#3a48a4" fill-opacity="0.60"/>
<path d="M70.5,164.4 72.7,164.7 72.7,173.3 70.6,172.8 Z" fill="#3a48a4" fill-opacity="0.60"/>
<path d="M75.1,165.1 77.3,165.4 77.4,174.2 75.2,173.8 Z" fill="#3a48a4" fill-opacity="0.60"/>
<path d="M79.7,165.7 82.0,166.0 82.1,175.1 79.9,174.7 Z" fill="#3a48a4" fill-opacity="0.60"/>
<path d="M84.5,166.4 86.7,166.7 87.0,175.9 84.7,175.5 Z" fill="#3a48a4" fill-opacity="0.60"/>
<path d="M89.2,167.0 91.5,167.2 91.8,176.7 89.5,176.3 Z" fill="#3a48a4" fill-opacity="0.60"/>
<path d="M94.0,167.5 96.3,167.8 96.6,177.4 94.3,177.0 Z" fill="#3a48a4" fill-opacity="0.60"/>
<path d="M98.7,168.0 101.0,168.2 101.4,178.0 99.1,177.7 Z" fill="#3a48a4" fill-opacity="0.60"/>
<path d="M103.4,168.4 105.6,168.6 106.1,178.5 103.8,178.3 Z" fill="#3a48a4" fill-opacity="0.60"/>
<path d="M108.1,168.8 110.3,169.0 110.8,179.0 108.5,178.7 Z" fill="#3a48a4" fill-opacity="0.60"/>
<path d="M112.7,169.1 114.9,169.2 115.5,179.3 113.2,179.2 Z" fill="#3a48a4" fill-opacity="0.60"/>
<path d="M117.4,169.4 119.6,169.5 120.2,179.6 117.9,179.5 Z" fill="#3a48a4" fill-opacity="0.60"/>
<path d="M122.0,169.6 124.2,169.7 124.8,179.9 122.6,179.8 Z" fill="#3a48a4" fill-opacity="0.60"/>
<path d="M126.6,169.8 128.8,169.9 129.5,180.2 127.3,180.1 Z" fill="#3a48a4" fill-opacity="0.60"/>
<path d="M131.2,170.0 133.4,170.1 134.1,180.4 131.9,180.3 Z" fill="#3a48a4" fill-opacity="0.60"/>
<path d="M135.8,170.1 138.0,170.2 138.6,180.6 136.5,180.5 Z" fill="#3a48a4" fill-opacity="0.60"/>
<path d="M140.3,170.3 142.5,170.4 143.1,180.8 141.0,180.7 Z" fill="#3a48a4" fill-opacity="0.60"/>
<path d="M144.8,170.4 147.0,170.5 147.7,180.9 145.5,180.9 Z" fill="#3a48a4" fill-opacity="0.60"/>
<path d="M149.3,170.5 151.5,170.5 152.1,181.1 150.0,181.0 Z" fill="#3a48a4" fill-opacity="0.60"/>
<path d="M153.8,170.6 156.0,170.6 156.6,181.2 154.5,181.1 Z" fill="#3a48a4" fill-opacity="0.60"/>
<path d="M158.3,170.7 160.5,170.7 161.1,181.3 159.0,181.2 Z" fill="#3a48a4" fill-opacity="0.60"/>
<path d="M162.9,170.7 165.0,170.7 165.7,181.3 163.5,181.3 Z" fill="#3a48a4" fill-opacity="0.60"/>
<path d="M167.4,170.8 169.5,170.8 170.2,181.4 168.0,181.4 Z" fill="#3a48a4" fill-opacity="0.60"/>
<path d="M171.9,170.8 174.0,170.8 174.7,181.4 172.5,181.4 Z" fill="#3a48a4" fill-opacity="0.60"/>
<path d="M176.4,170.8 178.6,170.8 179.2,181.4 177.1,181.4 Z" fill="#3a48a4" fill-opacity="0.60"/>
<path d="M180.9,170.8 183.1,170.8 183.7,181.4 181.6,181.4 Z" fill="#3a48a4" fill-opacity="0.60"/>
<path d="M185.4,170.8 187.6,170.8 188.2,181.4 186.1,181.4 Z" fill="#3a48a4" fill-opacity="0.60"/>
<path d="M190.0,170.8 192.1,170.8 192.8,181.4 190.6,181.4 Z" fill="#3a48a4" fill-opacity="0.60"/>
<path d="M194.5,170.8 196.6,170.8 197.3,181.3 195.1,181.4 Z" fill="#3a48a4" fill-opacity="0.60"/>
<path d="M199.0,170.7 201.2,170.7 201.8,181.3 199.7,181.3 Z" fill="#3a48a4" fill-opacity="0.60"/>
<path d="M203.5,170.7 205.7,170.7 206.3,181.2 204.2,181.3 Z" fill="#3a48a4" fill-opacity="0.60"/>
<path d="M208.0,170.6 210.2,170.6 210.8,181.1 208.7,181.2 Z" fill="#3a48a4" fill-opacity="0.60"/>
<path d="M212.6,170.6 214.7,170.5 215.4,181.1 213.2,181.1 Z" fill="#3a48a4" fill-opacity="0.60"/>
<path d="M217.1,170.5 219.2,170.5 219.9,180.9 217.7,181.0 Z" fill="#3a48a4" fill-opacity="0.60"/>
<path d="M221.6,170.4 223.7,170.4 224.4,180.8 222.2,180.9 Z" fill="#3a48a4" fill-opacity="0.60"/>
<path d="M226.1,170.3 228.3,170.2 229.0,180.6 226.8,180.7 Z" fill="#3a48a4" fill-opacity="0.60"/>
<path d="M230.7,170.2 232.9,170.1 233.5,180.5 231.4,180.5 Z" fill="#3a48a4" fill-opacity="0.60"/>
<path d="M235.3,170.0 237.4,169.9 238.1,180.3 235.9,180.4 Z" fill="#3a48a4" fill-opacity="0.60"/>
<path d="M239.8,169.9 242.0,169.8 242.7,180.0 240.5,180.2 Z" fill="#3a48a4" fill-opacity="0.60"/>
<path d="M244.3,169.7 246.5,169.6 247.1,179.8 245.0,179.9 Z" fill="#3a48a4" fill-opacity="0.60"/>
<path d="M248.8,169.5 250.9,169.5 251.5,179.6 249.5,179.7 Z" fill="#3a48a4" fill-opacity="0.60"/>
<path d="M253.2,169.4 255.3,169.3 255.9,179.4 253.8,179.5 Z" fill="#3a48a4" fill-opacity="0.60"/>
<path d="M257.5,169.2 259.6,169.2 260.1,179.2 258.1,179.3 Z" fill="#3a48a4" fill-opacity="0.60"/>
<path d="M261.9,169.1 263.9,169.0 264.4,179.0 262.4,179.1 Z" fill="#3a48a4" fill-opacity="0.60"/>
<path d="M266.2,168.9 268.2,168.9 268.5,178.7 266.5,178.8 Z" fill="#3a48a4" fill-opacity="0.60"/>
<path d="M270.4,168.8 272.4,168.7 272.6,178.5 270.7,178.6 Z" fill="#3a48a4" fill-opacity="0.60"/>
<path d="M274.6,168.6 276.5,168.5 276.6,178.2 274.7,178.4 Z" fill="#3a48a4" fill-opacity="0.60"/>
<path d="M278.6,168.4 280.5,168.3 280.4,177.9 278.6,178.1 Z" fill="#3a48a4" fill-opacity="0.60"/>
<path d="M282.5,168.2 284.3,168.1 284.2,177.6 282.4,177.8 Z" fill="#3a48a4" fill-opacity="0.60"/>
<path d="M286.3,168.0 288.1,167.9 287.9,177.3 286.2,177.5 Z" fill="#3a48a4" fill-opacity="0.60"/>
<path d="M290.0,167.8 291.7,167.7 291.5,177.0 289.8,177.2 Z" fill="#3a48a4" fill-opacity="0.60"/>
<path d="M293.6,167.6 295.3,167.5 295.0,176.7 293.4,176.8 Z" fill="#3a48a4" fill-opacity="0.60"/>
<path d="M297.1,167.4 298.8,167.3 298.4,176.3 296.8,176.5 Z" fill="#3a48a4" fill-opacity="0.60"/>
<path d="M300.5,167.1 302.1,167.0 301.8,175.8 300.2,176.1 Z" fill="#3a48a4" fill-opacity="0.60"/>
<path d="M303.8,166.8 305.4,166.7 305.0,175.4 303.4,175.6 Z" fill="#3a48a4" fill-opacity="0.60"/>
<path d="M307.1,166.5 308.7,166.3 308.3,174.7 306.7,175.1 Z" fill="#3a48a4" fill-opacity="0.60"/>
<path d="M310.5,166.0 312.1,165.8 311.7,174.1 310.1,174.4 Z" fill="#3a48a4" fill-opacity="0.60"/>
<path d="M313.8,165.6 315.3,165.4 314.9,173.4 313.4,173.7 Z" fill="#3a48a4" fill-opacity="0.60"/>
<path d="M316.9,165.1 318.2,164.9 317.8,172.7 316.5,173.0 Z" fill="#3a48a4" fill-opacity="0.60"/>
<path d="M319.6,164.7 320.7,164.5 320.3,172.1 319.2,172.4 Z" fill="#3a48a4" fill-opacity="0.60"/>
<path d="M321.8,164.4 322.6,164.3 322.2,171.7 321.4,171.9 Z" fill="#3a48a4" fill-opacity="0.60"/>
<path d="M40.9,171.8 41.7,173.6 40.7,184.8 39.6,186.0 39.0,184.1 40.1,173.1 Z" fill="#3a4aa6" fill-opacity="0.90"/>
<path d="M44.3,173.0 45.5,175.0 44.7,186.6 43.2,187.6 42.1,185.5 43.0,174.1 Z" fill="#3a4aa6" fill-opacity="0.90"/>
<path d="M49.1,174.6 50.6,176.8 49.9,189.0 48.1,189.9 46.6,187.5 47.4,175.7 Z" fill="#3a4aa6" fill-opacity="0.90"/>
<path d="M54.6,176.4 56.4,178.8 55.9,191.7 54.0,192.6 52.2,190.0 52.8,177.6 Z" fill="#3a4aa6" fill-opacity="0.58"/>
<path d="M60.6,178.4 62.4,180.8 62.2,194.3 60.3,195.4 58.4,192.7 58.8,179.6 Z" fill="#3a4aa6" fill-opacity="0.12"/>
<path d="M139.8,191.1 141.5,193.5 142.7,211.2 141.2,213.5 139.4,211.0 138.3,193.4 Z" fill="#3a4aa6" fill-opacity="0.41"/>
<path d="M145.1,191.3 146.9,193.8 148.0,211.5 146.6,213.8 144.8,211.3 143.7,193.7 Z" fill="#3a4aa6" fill-opacity="0.81"/>
<path d="M150.5,191.5 152.2,194.0 153.3,211.8 151.9,214.1 150.1,211.6 149.0,193.9 Z" fill="#3a4aa6" fill-opacity="0.90"/>
<path d="M155.8,191.7 157.5,194.1 158.6,212.0 157.2,214.4 155.5,211.9 154.3,194.1 Z" fill="#3a4aa6" fill-opacity="0.90"/>
<path d="M161.1,191.8 162.9,194.3 164.0,212.2 162.5,214.5 160.8,212.1 159.7,194.2 Z" fill="#3a4aa6" fill-opacity="0.90"/>
<path d="M166.5,191.9 168.2,194.4 169.3,212.3 167.9,214.7 166.1,212.2 165.0,194.3 Z" fill="#3a4aa6" fill-opacity="0.90"/>
<path d="M171.8,192.0 173.6,194.4 174.7,212.4 173.2,214.8 171.5,212.3 170.4,194.4 Z" fill="#3a4aa6" fill-opacity="0.90"/>
<path d="M177.2,192.0 178.9,194.5 180.0,212.4 178.6,214.9 176.8,212.4 175.7,194.5 Z" fill="#3a4aa6" fill-opacity="0.90"/>
<path d="M182.5,192.0 184.3,194.5 185.4,212.4 183.9,214.9 182.2,212.4 181.1,194.5 Z" fill="#3a4aa6" fill-opacity="0.90"/>
<path d="M187.9,192.0 189.7,194.4 190.8,212.4 189.3,214.8 187.5,212.4 186.4,194.5 Z" fill="#3a4aa6" fill-opacity="0.90"/>
<path d="M193.2,192.0 195.0,194.4 196.1,212.3 194.7,214.8 192.9,212.4 191.8,194.4 Z" fill="#3a4aa6" fill-opacity="0.90"/>
<path d="M198.6,191.9 200.4,194.3 201.5,212.2 200.0,214.7 198.2,212.3 197.1,194.4 Z" fill="#3a4aa6" fill-opacity="0.65"/>
<path d="M204.0,191.8 205.7,194.2 206.8,212.1 205.4,214.6 203.6,212.2 202.5,194.3 Z" fill="#3a4aa6" fill-opacity="0.25"/>
<path d="M285.3,187.0 286.5,189.0 286.3,205.0 285.0,207.4 283.8,205.5 283.9,189.4 Z" fill="#3a4aa6" fill-opacity="0.09"/>
<path d="M289.5,186.5 290.7,188.5 290.4,204.2 289.1,206.6 287.9,204.7 288.2,188.8 Z" fill="#3a4aa6" fill-opacity="0.40"/>
<path d="M293.6,186.0 294.8,187.9 294.3,203.4 293.1,205.8 292.0,203.9 292.4,188.3 Z" fill="#3a4aa6" fill-opacity="0.70"/>
<path d="M297.7,185.4 298.8,187.2 298.2,202.4 297.0,204.8 295.9,203.0 296.4,187.6 Z" fill="#3a4aa6" fill-opacity="0.90"/>
<path d="M301.5,184.7 302.6,186.5 301.9,201.4 300.7,203.7 299.7,202.0 300.3,186.9 Z" fill="#3a4aa6" fill-opacity="0.90"/>
<path d="M305.4,183.9 306.4,185.6 305.7,200.1 304.5,202.5 303.4,200.9 304.1,186.1 Z" fill="#3a4aa6" fill-opacity="0.90"/>
<path d="M309.3,182.9 310.4,184.4 309.7,198.5 308.4,200.9 307.3,199.5 308.0,185.1 Z" fill="#3a4aa6" fill-opacity="0.90"/>
<path d="M313.2,181.7 314.3,183.2 313.6,196.8 312.3,199.2 311.3,197.8 312.0,184.0 Z" fill="#3a4aa6" fill-opacity="0.90"/>
<path d="M316.8,180.6 317.7,182.1 317.0,195.2 316.0,197.5 315.0,196.2 315.7,182.8 Z" fill="#3a4aa6" fill-opacity="0.90"/>
<path d="M319.9,179.7 320.5,181.2 319.9,193.9 319.0,196.0 318.3,194.7 318.9,181.7 Z" fill="#3a4aa6" fill-opacity="0.90"/>
<path d="M322.0,179.1 322.4,180.6 321.8,193.1 321.2,195.0 320.7,193.5 321.4,180.9 Z" fill="#3a4aa6" fill-opacity="0.90"/>
<path d="M53.8,174.4 55.6,175.0 54.8,195.3 53.0,194.4 Z" fill="#e6e040" fill-opacity="0.30"/>
<path d="M59.8,176.3 61.6,176.8 61.2,198.2 59.3,197.3 Z" fill="#e6e040" fill-opacity="0.74"/>
<path d="M65.8,178.0 67.5,178.5 67.4,200.8 65.6,200.1 Z" fill="#e6e040" fill-opacity="0.85"/>
<path d="M71.4,179.5 73.0,179.9 73.1,203.0 71.4,202.4 Z" fill="#e6e040" fill-opacity="0.85"/>
<path d="M76.9,180.8 78.6,181.2 79.0,205.0 77.2,204.4 Z" fill="#e6e040" fill-opacity="0.85"/>
<path d="M82.6,182.1 84.3,182.4 84.9,206.9 83.1,206.4 Z" fill="#e6e040" fill-opacity="0.85"/>
<path d="M88.4,183.2 90.1,183.6 90.8,208.7 89.0,208.2 Z" fill="#e6e040" fill-opacity="0.85"/>
<path d="M94.2,184.3 95.9,184.6 96.8,210.3 95.0,209.8 Z" fill="#e6e040" fill-opacity="0.85"/>
<path d="M99.9,185.2 101.6,185.5 102.6,211.7 100.9,211.3 Z" fill="#e6e040" fill-opacity="0.85"/>
<path d="M105.5,186.0 107.2,186.2 108.4,212.8 106.7,212.5 Z" fill="#e6e040" fill-opacity="0.85"/>
<path d="M111.1,186.6 112.8,186.8 114.2,213.8 112.5,213.5 Z" fill="#e6e040" fill-opacity="0.85"/>
<path d="M116.8,187.2 118.4,187.3 119.9,214.5 118.2,214.3 Z" fill="#e6e040" fill-opacity="0.85"/>
<path d="M122.3,187.6 124.0,187.7 125.6,215.2 123.9,215.0 Z" fill="#e6e040" fill-opacity="0.85"/>
<path d="M127.9,188.0 129.5,188.1 131.2,215.8 129.6,215.6 Z" fill="#e6e040" fill-opacity="0.85"/>
<path d="M133.4,188.3 135.0,188.4 136.8,216.3 135.1,216.1 Z" fill="#e6e040" fill-opacity="0.84"/>
<path d="M138.8,188.6 140.4,188.7 142.2,216.8 140.6,216.6 Z" fill="#e6e040" fill-opacity="0.46"/>
<path d="M144.2,188.9 145.8,188.9 147.6,217.1 146.0,217.0 Z" fill="#e6e040" fill-opacity="0.08"/>
<path d="M197.7,189.5 199.3,189.5 201.0,218.0 199.4,218.0 Z" fill="#e6e040" fill-opacity="0.24"/>
<path d="M203.0,189.4 204.6,189.4 206.4,217.8 204.8,217.9 Z" fill="#e6e040" fill-opacity="0.62"/>
<path d="M208.4,189.3 210.0,189.3 211.7,217.7 210.1,217.7 Z" fill="#e6e040" fill-opacity="0.85"/>
<path d="M213.7,189.2 215.3,189.2 217.1,217.5 215.5,217.5 Z" fill="#e6e040" fill-opacity="0.85"/>
<path d="M219.1,189.0 220.7,189.0 222.4,217.2 220.8,217.3 Z" fill="#e6e040" fill-opacity="0.85"/>
<path d="M224.4,188.9 226.1,188.8 227.8,216.9 226.2,217.0 Z" fill="#e6e040" fill-opacity="0.85"/>
<path d="M229.9,188.6 231.5,188.6 233.3,216.5 231.6,216.7 Z" fill="#e6e040" fill-opacity="0.85"/>
<path d="M235.3,188.4 236.9,188.3 238.8,216.1 237.1,216.3 Z" fill="#e6e040" fill-opacity="0.85"/>
<path d="M240.7,188.1 242.3,188.0 244.2,215.7 242.6,215.8 Z" fill="#e6e040" fill-opacity="0.85"/>
<path d="M246.1,187.8 247.7,187.7 249.5,215.2 248.0,215.3 Z" fill="#e6e040" fill-opacity="0.85"/>
<path d="M251.3,187.5 252.8,187.4 254.6,214.7 253.1,214.8 Z" fill="#e6e040" fill-opacity="0.85"/>
<path d="M256.4,187.2 257.9,187.1 259.4,214.2 258.0,214.3 Z" fill="#e6e040" fill-opacity="0.85"/>
<path d="M261.4,186.8 262.8,186.7 264.1,213.6 262.7,213.8 Z" fill="#e6e040" fill-opacity="0.85"/>
<path d="M266.3,186.5 267.7,186.4 268.6,213.1 267.3,213.2 Z" fill="#e6e040" fill-opacity="0.85"/>
<path d="M271.0,186.2 272.4,186.1 273.0,212.4 271.7,212.6 Z" fill="#e6e040" fill-opacity="0.85"/>
<path d="M275.7,185.8 277.1,185.7 277.2,211.8 276.0,212.0 Z" fill="#e6e040" fill-opacity="0.85"/>
<path d="M280.2,185.4 281.6,185.2 281.5,211.0 280.2,211.2 Z" fill="#e6e040" fill-opacity="0.85"/>
<path d="M284.6,184.9 285.9,184.8 285.6,210.2 284.4,210.5 Z" fill="#e6e040" fill-opacity="0.77"/>
<path d="M288.9,184.4 290.2,184.3 289.6,209.4 288.4,209.6 Z" fill="#e6e040" fill-opacity="0.47"/>
<path d="M293.1,183.9 294.3,183.8 293.6,208.4 292.4,208.7 Z" fill="#e6e040" fill-opacity="0.19"/>
<path d="M82.0,198.8 83.7,196.8 85.5,196.3 87.2,196.1 89.0,196.1 90.8,196.2 92.5,196.4 94.3,196.7 96.1,197.1 97.8,197.4 99.6,197.7 101.3,198.1 103.0,198.4 104.8,198.7 106.5,198.9 108.2,199.2 110.0,199.5 111.7,199.8 113.4,200.1 115.1,200.5 116.9,201.0 118.6,201.7 120.4,202.5 122.1,203.9 124.0,206.8 124.0,206.8 122.5,209.5 120.8,210.4 119.1,210.9 117.4,211.2 115.7,211.3 114.0,211.2 112.2,211.1 110.5,210.9 108.7,210.6 107.0,210.3 105.3,210.0 103.5,209.6 101.8,209.3 100.0,208.9 98.2,208.4 96.4,208.0 94.7,207.5 92.9,206.9 91.1,206.2 89.3,205.5 87.4,204.5 85.6,203.4 83.8,201.8 82.0,198.8 Z" fill="#ee9a3a" opacity="0.6"/>
<path d="M86.0,199.9 87.5,199.0 88.9,198.8 90.4,198.8 91.9,199.0 93.4,199.2 94.8,199.4 96.3,199.7 97.8,200.0 99.2,200.2 100.7,200.5 102.1,200.8 103.6,201.1 105.0,201.3 106.5,201.6 107.9,201.8 109.4,202.0 110.8,202.3 112.2,202.5 113.7,202.8 115.1,203.2 116.6,203.6 118.0,204.1 119.5,204.9 121.0,206.5 121.0,206.5 119.7,207.9 118.2,208.3 116.8,208.5 115.4,208.6 114.0,208.6 112.5,208.5 111.1,208.3 109.6,208.1 108.2,207.9 106.7,207.6 105.3,207.4 103.8,207.1 102.4,206.8 100.9,206.5 99.4,206.2 98.0,205.8 96.5,205.4 95.0,205.0 93.5,204.6 92.0,204.0 90.5,203.4 89.0,202.7 87.5,201.7 86.0,199.9 Z" fill="#d2302c" opacity="0.95"/>
<path d="M208.0,212.7 210.6,209.6 213.3,208.3 216.0,207.4 218.8,206.8 221.5,206.4 224.3,206.0 227.1,205.8 229.9,205.6 232.7,205.4 235.6,205.2 238.4,205.0 241.2,204.8 244.0,204.6 246.8,204.4 249.5,204.1 252.2,204.0 254.8,203.8 257.3,203.7 259.9,203.7 262.3,203.7 264.8,204.0 267.2,204.4 269.6,205.3 272.0,207.9 272.0,207.9 269.8,211.0 267.5,212.4 265.2,213.4 262.9,214.2 260.5,214.8 258.0,215.3 255.5,215.7 253.0,216.0 250.3,216.3 247.6,216.6 244.8,216.8 242.0,217.1 239.2,217.3 236.4,217.5 233.5,217.7 230.7,217.9 227.8,218.0 225.0,218.0 222.2,218.0 219.4,217.8 216.6,217.4 213.8,216.8 211.0,215.6 208.0,212.7 Z" fill="#ee9a3a" opacity="0.6"/>
<path d="M214.0,213.3 216.1,211.6 218.3,210.8 220.5,210.3 222.7,209.9 224.9,209.7 227.2,209.4 229.4,209.2 231.7,209.0 234.0,208.9 236.3,208.7 238.6,208.6 240.8,208.4 243.1,208.2 245.3,208.0 247.5,207.9 249.7,207.7 251.8,207.5 253.9,207.4 256.0,207.3 258.0,207.3 260.1,207.4 262.0,207.6 264.0,208.0 266.0,209.4 266.0,209.4 264.2,211.1 262.3,212.0 260.3,212.6 258.4,213.1 256.4,213.5 254.4,213.8 252.3,214.1 250.1,214.3 248.0,214.5 245.8,214.7 243.5,214.9 241.3,215.1 239.0,215.3 236.7,215.5 234.4,215.7 232.1,215.8 229.9,215.9 227.6,216.0 225.3,216.0 223.1,215.9 220.9,215.8 218.6,215.5 216.3,214.9 214.0,213.3 Z" fill="#d2302c" opacity="0.95"/>
<path d="M50.0,135.7 52.4,135.8 55.6,135.9 59.5,136.1 63.8,136.3 68.1,136.4 72.3,136.5 76.8,136.5 81.5,136.5 86.4,136.5 91.2,136.5 95.9,136.6 100.6,136.6 105.3,136.6 110.0,136.7 114.6,136.7 119.3,136.7 124.0,136.7 128.7,136.6 133.3,136.6 138.0,136.5 142.7,136.4 147.3,136.3 152.0,136.3 156.6,136.3 161.2,136.3 165.9,136.3 170.7,136.3 175.6,136.3 180.7,136.3 185.9,136.3 191.1,136.4 196.3,136.5 201.4,136.5 206.5,136.6 211.5,136.7 216.5,136.7 221.6,136.8 226.6,136.9 231.6,137.0 236.7,137.1 241.7,137.1 246.7,137.2 251.8,137.3 256.8,137.3 262.0,137.3 267.2,137.4 272.3,137.3 277.3,137.3 282.1,137.2 286.6,137.1 291.0,137.1 291.0,137.1 286.6,137.6 282.1,137.9 277.3,138.1 272.3,138.3 267.2,138.5 262.0,138.7 256.8,138.8 251.8,138.9 246.7,139.0 241.7,139.1 236.7,139.2 231.6,139.3 226.6,139.3 221.6,139.4 216.5,139.5 211.5,139.6 206.5,139.7 201.4,139.8 196.3,139.9 191.1,140.0 185.9,140.1 180.7,140.1 175.6,140.1 170.7,140.1 165.9,140.1 161.2,140.1 156.6,140.1 152.0,140.1 147.3,140.0 142.7,140.0 138.0,139.9 133.3,139.8 128.7,139.8 124.0,139.7 119.3,139.5 114.6,139.4 110.0,139.2 105.3,139.0 100.6,138.8 95.9,138.7 91.2,138.5 86.4,138.3 81.5,138.2 76.8,138.0 72.3,137.8 68.1,137.6 63.8,137.3 59.5,137.1 55.6,136.8 52.4,136.5 50.0,136.4 Z" fill="#3c4ca6"/>
<path d="M280.6,137.4 C281,130 288,125.8 295.5,125.8 C302,125.8 308,128.5 311,131.5 L314.5,135 L320,135.5 L320,139.5 L314.5,139.5 C313,143 307,149.5 297,150 C288,150 281,144 280.6,137.4 Z" fill="#3b4a9e"/>
<ellipse cx="284.6" cy="154.5" rx="2" ry="1.6" fill="#3b4a9e"/><ellipse cx="287" cy="158" rx="1.5" ry="1.3" fill="#3b4a9e"/>
<line x1="270" y1="122" x2="270.5" y2="159" stroke="#4a5cb0" stroke-width="1.5" opacity="0.7"/>
<line x1="102.3" y1="183.5" x2="100.4" y2="211" stroke="#000" stroke-width="2.6"/>
<line x1="159.6" y1="141.2" x2="159.6" y2="152.4" stroke="#000" stroke-width="2.4"/>
<line x1="159.6" y1="160.8" x2="159.6" y2="172" stroke="#000" stroke-width="2.4"/>
<line x1="159.6" y1="179" x2="159.6" y2="190.1" stroke="#000" stroke-width="2.4"/>
<circle cx="95.8" cy="208.2" r="1.6" fill="#d8302c"/>
</g></g>
<rect x="353.6" y="30.6" width="3.7" height="211.4" fill="url(#cb)"/><rect x="353.2" y="64.2" width="4.5" height="2.6" rx="1" fill="#f4f0d0"/><rect x="353.2" y="223.6" width="4.5" height="2.4" rx="1" fill="#e8c860"/>
<rect x="0" y="247" width="376" height="2" fill="#e4e4e4"/>
<g font-family="Liberation Sans" font-size="4.5" fill="#505050">
<text x="10.0" y="27.5" text-anchor="middle">0</text>
<text x="62.0" y="27.5" text-anchor="middle">100</text>
<text x="114.0" y="27.5" text-anchor="middle">200</text>
<text x="166.0" y="27.5" text-anchor="middle">300</text>
<text x="218.0" y="27.5" text-anchor="middle">400</text>
<text x="270.0" y="27.5" text-anchor="middle">500</text>
<text x="322.0" y="27.5" text-anchor="middle">600</text>
<text x="9" y="72.3" text-anchor="end">100</text>
<text x="9" y="114.3" text-anchor="end">200</text>
<text x="9" y="156.3" text-anchor="end">300</text>
<text x="9" y="198.3" text-anchor="end">400</text>
<text x="9" y="240.3" text-anchor="end">500</text>
<text x="10.0" y="247.5" text-anchor="middle">0</text>
<text x="62.0" y="247.5" text-anchor="middle">100</text>
<text x="114.0" y="247.5" text-anchor="middle">200</text>
<text x="166.0" y="247.5" text-anchor="middle">300</text>
<text x="218.0" y="247.5" text-anchor="middle">400</text>
<text x="270.0" y="247.5" text-anchor="middle">500</text>
<text x="322.0" y="247.5" text-anchor="middle">600</text>
<text x="176" y="24.5" text-anchor="middle">IR_Q6B_55963.h5</text>
<text x="345.5" y="72.3">100</text>
<text x="345.5" y="114.3">200</text>
<text x="345.5" y="156.3">300</text>
<text x="345.5" y="198.3">400</text>
<text x="345.5" y="240.3">500</text>
<text x="345.3" y="30.5">0</text>
<text x="360" y="32.3">220</text>
<text x="360" y="67.5">200</text>
<text x="360" y="102.7">180</text>
<text x="360" y="137.9">160</text>
<text x="360" y="173.1">140</text>
<text x="360" y="208.3">120</text>
<text x="360" y="243.5">100</text>
<text transform="translate(372.2,134.8) rotate(-90)" text-anchor="middle">DL quality</text>
</g>
<line x1="472.7" y1="25.2" x2="472.7" y2="218.4" stroke="#dcdcdc" stroke-width="1"/>
<line x1="528.8" y1="25.2" x2="528.8" y2="218.4" stroke="#dcdcdc" stroke-width="1"/>
<line x1="584.8" y1="25.2" x2="584.8" y2="218.4" stroke="#dcdcdc" stroke-width="1"/>
<line x1="640.9" y1="25.2" x2="640.9" y2="218.4" stroke="#dcdcdc" stroke-width="1"/>
<line x1="416.6" y1="186.2" x2="697.0" y2="186.2" stroke="#dcdcdc" stroke-width="1"/>
<line x1="416.6" y1="154.0" x2="697.0" y2="154.0" stroke="#dcdcdc" stroke-width="1"/>
<line x1="416.6" y1="121.8" x2="697.0" y2="121.8" stroke="#dcdcdc" stroke-width="1"/>
<line x1="416.6" y1="89.6" x2="697.0" y2="89.6" stroke="#dcdcdc" stroke-width="1"/>
<line x1="416.6" y1="57.4" x2="697.0" y2="57.4" stroke="#dcdcdc" stroke-width="1"/>
<path d="M416.6,114.4V140.2M418.1,114.4V140.2M419.6,112.9V139.0M421.1,111.3V137.7M422.7,109.7V136.4M424.2,108.1V135.1M425.7,106.4V133.8M427.2,104.8V132.5M428.7,102.2V130.3M430.2,99.5V128.1M431.7,96.8V125.8M433.3,94.2V123.6M434.8,91.5V121.4M436.3,88.9V119.1M437.8,86.4V116.6M439.3,83.9V114.2M440.8,80.4V110.4M442.3,75.5V105.1M443.9,70.7V99.7M445.4,66.5V95.4M446.9,62.4V91.3M448.4,58.8V88.0M449.9,56.8V86.6M451.4,54.9V85.3M452.9,52.9V83.9M454.5,52.2V83.8M456.0,57.3V89.2M457.5,62.4V94.5M459.0,69.3V100.8M460.5,75.7V106.4M462.0,80.2V110.6M463.5,82.4V112.4M465.1,78.0V107.4M466.6,70.9V99.9M468.1,62.0V91.4M469.6,57.8V88.8M471.1,53.7V86.2M472.6,52.0V85.2M474.1,55.3V87.4M475.7,58.5V89.7M477.2,65.8V93.2M478.7,73.6V98.7M480.2,81.0V104.9M481.7,92.1V115.3M483.2,107.2V130.4M484.7,112.5V135.9M486.3,112.5V136.4M487.8,112.5V136.9M489.3,112.5V137.3M490.8,112.8V138.0M492.3,113.5V138.9M493.8,114.1V139.7M495.3,115.1V141.0M496.9,118.0V144.7M498.4,120.9V148.4M499.9,123.8V152.0M501.4,131.7V158.9M502.9,140.8V166.6M504.4,131.9V155.0M505.9,122.9V143.6M507.4,117.9V139.8M509.0,113.0V136.1M510.5,110.7V134.6M512.0,108.6V133.5M513.5,106.6V132.3M515.0,104.6V131.1M516.5,104.2V131.3M518.0,106.0V133.0M519.6,107.7V134.7M521.1,109.4V136.5M522.6,111.1V137.9M524.1,112.5V138.8M525.6,114.0V139.6M527.1,115.4V140.5M528.6,115.7V141.3M530.2,116.0V142.1M531.7,116.3V142.9M533.2,116.6V143.7M534.7,117.2V145.2M536.2,118.7V147.4M537.7,128.0V154.6M539.2,137.6V162.0M540.8,147.1V169.3M542.3,154.5V175.1M543.8,160.6V179.9M545.3,163.2V182.5M546.8,160.5V179.8M548.3,155.7V175.6M549.8,149.3V170.9M551.4,143.6V166.6M552.9,138.9V162.7M554.4,135.5V159.8M555.9,132.2V157.0M557.4,129.7V154.8M558.9,128.5V153.6M560.4,127.3V152.4M562.0,128.1V153.1M563.5,131.4V156.0M565.0,134.7V159.0M566.5,138.0V161.9M568.0,140.2V164.0M569.5,142.0V165.8M571.0,143.8V167.7M572.6,145.6V169.5M574.1,147.0V170.9M575.6,147.2V171.3M577.1,147.5V171.7M578.6,147.7V172.0M580.1,147.4V171.9M581.6,145.1V170.1M583.2,142.8V168.2M584.7,139.7V166.0M586.2,134.3V162.8M587.4,122.4V165.6M589.6,178.8V187.2M591.2,188.4V196.2M592.9,194.6V202.4M594.5,198.7V206.3M596.1,200.8V208.2M597.7,202.9V210.0M599.4,204.4V211.3M601.0,205.8V212.5M602.6,207.3V213.8M604.2,207.7V214.2M605.9,208.0V214.5M607.5,208.4V214.8M609.1,206.8V213.4M610.7,204.8V211.6M612.4,202.8V209.7M614.0,200.9V207.9M615.6,199.3V206.4M617.3,197.8V204.9M618.9,196.2V203.3M620.5,195.1V202.2M622.1,194.2V201.3M623.8,193.4V200.5M625.4,192.5V199.6M627.0,191.9V199.0M628.6,191.4V198.5M630.3,190.9V198.0M631.9,190.4V197.5M633.5,189.8V196.9M635.1,189.3V196.4M636.8,188.7V195.8M638.4,187.6V194.6M640.0,185.9V192.7M641.6,184.2V190.8M643.3,181.1V187.6M644.9,173.0V179.4M646.5,159.0V166.2M648.2,138.0V146.3M649.8,119.2V129.4M651.4,108.0V119.6M653.0,115.7V127.3M654.7,119.5V132.1M656.3,119.6V131.0M657.9,118.3V127.8M659.5,116.9V125.5M661.2,127.3V136.4M662.8,137.3V147.1M664.4,139.6V149.9M666.0,142.3V152.0M667.7,143.4V153.0M669.3,144.1V153.8M670.9,144.9V154.6M672.5,145.8V155.4M674.2,146.7V156.4M675.8,147.7V157.3M677.4,148.6V158.3M679.1,149.6V159.2M680.7,160.9V168.4M682.3,190.6V197.7M683.5,205.8V212.9" stroke="#404040" stroke-width="1.0" fill="none" opacity="0.9"/>
<path d="M414.2,114.4H419.0M414.2,140.2H419.0M415.7,114.4H420.5M415.7,140.2H420.5M417.2,112.9H422.0M417.2,139.0H422.0M418.7,111.3H423.5M418.7,137.7H423.5M420.3,109.7H425.1M420.3,136.4H425.1M421.8,108.1H426.6M421.8,135.1H426.6M423.3,106.4H428.1M423.3,133.8H428.1M424.8,104.8H429.6M424.8,132.5H429.6M426.3,102.2H431.1M426.3,130.3H431.1M427.8,99.5H432.6M427.8,128.1H432.6M429.3,96.8H434.1M429.3,125.8H434.1M430.9,94.2H435.7M430.9,123.6H435.7M432.4,91.5H437.2M432.4,121.4H437.2M433.9,88.9H438.7M433.9,119.1H438.7M435.4,86.4H440.2M435.4,116.6H440.2M436.9,83.9H441.7M436.9,114.2H441.7M438.4,80.4H443.2M438.4,110.4H443.2M439.9,75.5H444.7M439.9,105.1H444.7M441.5,70.7H446.3M441.5,99.7H446.3M443.0,66.5H447.8M443.0,95.4H447.8M444.5,62.4H449.3M444.5,91.3H449.3M446.0,58.8H450.8M446.0,88.0H450.8M447.5,56.8H452.3M447.5,86.6H452.3M449.0,54.9H453.8M449.0,85.3H453.8M450.5,52.9H455.3M450.5,83.9H455.3M452.1,52.2H456.9M452.1,83.8H456.9M453.6,57.3H458.4M453.6,89.2H458.4M455.1,62.4H459.9M455.1,94.5H459.9M456.6,69.3H461.4M456.6,100.8H461.4M458.1,75.7H462.9M458.1,106.4H462.9M459.6,80.2H464.4M459.6,110.6H464.4M461.1,82.4H465.9M461.1,112.4H465.9M462.7,78.0H467.5M462.7,107.4H467.5M464.2,70.9H469.0M464.2,99.9H469.0M465.7,62.0H470.5M465.7,91.4H470.5M467.2,57.8H472.0M467.2,88.8H472.0M468.7,53.7H473.5M468.7,86.2H473.5M470.2,52.0H475.0M470.2,85.2H475.0M471.7,55.3H476.5M471.7,87.4H476.5M473.3,58.5H478.1M473.3,89.7H478.1M474.8,65.8H479.6M474.8,93.2H479.6M476.3,73.6H481.1M476.3,98.7H481.1M477.8,81.0H482.6M477.8,104.9H482.6M479.3,92.1H484.1M479.3,115.3H484.1M480.8,107.2H485.6M480.8,130.4H485.6M482.3,112.5H487.1M482.3,135.9H487.1M483.9,112.5H488.7M483.9,136.4H488.7M485.4,112.5H490.2M485.4,136.9H490.2M486.9,112.5H491.7M486.9,137.3H491.7M488.4,112.8H493.2M488.4,138.0H493.2M489.9,113.5H494.7M489.9,138.9H494.7M491.4,114.1H496.2M491.4,139.7H496.2M492.9,115.1H497.7M492.9,141.0H497.7M494.5,118.0H499.3M494.5,144.7H499.3M496.0,120.9H500.8M496.0,148.4H500.8M497.5,123.8H502.3M497.5,152.0H502.3M499.0,131.7H503.8M499.0,158.9H503.8M500.5,140.8H505.3M500.5,166.6H505.3M502.0,131.9H506.8M502.0,155.0H506.8M503.5,122.9H508.3M503.5,143.6H508.3M505.0,117.9H509.8M505.0,139.8H509.8M506.6,113.0H511.4M506.6,136.1H511.4M508.1,110.7H512.9M508.1,134.6H512.9M509.6,108.6H514.4M509.6,133.5H514.4M511.1,106.6H515.9M511.1,132.3H515.9M512.6,104.6H517.4M512.6,131.1H517.4M514.1,104.2H518.9M514.1,131.3H518.9M515.6,106.0H520.4M515.6,133.0H520.4M517.2,107.7H522.0M517.2,134.7H522.0M518.7,109.4H523.5M518.7,136.5H523.5M520.2,111.1H525.0M520.2,137.9H525.0M521.7,112.5H526.5M521.7,138.8H526.5M523.2,114.0H528.0M523.2,139.6H528.0M524.7,115.4H529.5M524.7,140.5H529.5M526.2,115.7H531.0M526.2,141.3H531.0M527.8,116.0H532.6M527.8,142.1H532.6M529.3,116.3H534.1M529.3,142.9H534.1M530.8,116.6H535.6M530.8,143.7H535.6M532.3,117.2H537.1M532.3,145.2H537.1M533.8,118.7H538.6M533.8,147.4H538.6M535.3,128.0H540.1M535.3,154.6H540.1M536.8,137.6H541.6M536.8,162.0H541.6M538.4,147.1H543.2M538.4,169.3H543.2M539.9,154.5H544.7M539.9,175.1H544.7M541.4,160.6H546.2M541.4,179.9H546.2M542.9,163.2H547.7M542.9,182.5H547.7M544.4,160.5H549.2M544.4,179.8H549.2M545.9,155.7H550.7M545.9,175.6H550.7M547.4,149.3H552.2M547.4,170.9H552.2M549.0,143.6H553.8M549.0,166.6H553.8M550.5,138.9H555.3M550.5,162.7H555.3M552.0,135.5H556.8M552.0,159.8H556.8M553.5,132.2H558.3M553.5,157.0H558.3M555.0,129.7H559.8M555.0,154.8H559.8M556.5,128.5H561.3M556.5,153.6H561.3M558.0,127.3H562.8M558.0,152.4H562.8M559.6,128.1H564.4M559.6,153.1H564.4M561.1,131.4H565.9M561.1,156.0H565.9M562.6,134.7H567.4M562.6,159.0H567.4M564.1,138.0H568.9M564.1,161.9H568.9M565.6,140.2H570.4M565.6,164.0H570.4M567.1,142.0H571.9M567.1,165.8H571.9M568.6,143.8H573.4M568.6,167.7H573.4M570.2,145.6H575.0M570.2,169.5H575.0M571.7,147.0H576.5M571.7,170.9H576.5M573.2,147.2H578.0M573.2,171.3H578.0M574.7,147.5H579.5M574.7,171.7H579.5M576.2,147.7H581.0M576.2,172.0H581.0M577.7,147.4H582.5M577.7,171.9H582.5M579.2,145.1H584.0M579.2,170.1H584.0M580.8,142.8H585.6M580.8,168.2H585.6M582.3,139.7H587.1M582.3,166.0H587.1M583.8,134.3H588.6M583.8,162.8H588.6M585.0,122.4H589.8M585.0,165.6H589.8M587.2,178.8H592.0M587.2,187.2H592.0M588.8,188.4H593.6M588.8,196.2H593.6M590.5,194.6H595.3M590.5,202.4H595.3M592.1,198.7H596.9M592.1,206.3H596.9M593.7,200.8H598.5M593.7,208.2H598.5M595.3,202.9H600.1M595.3,210.0H600.1M597.0,204.4H601.8M597.0,211.3H601.8M598.6,205.8H603.4M598.6,212.5H603.4M600.2,207.3H605.0M600.2,213.8H605.0M601.8,207.7H606.6M601.8,214.2H606.6M603.5,208.0H608.3M603.5,214.5H608.3M605.1,208.4H609.9M605.1,214.8H609.9M606.7,206.8H611.5M606.7,213.4H611.5M608.3,204.8H613.1M608.3,211.6H613.1M610.0,202.8H614.8M610.0,209.7H614.8M611.6,200.9H616.4M611.6,207.9H616.4M613.2,199.3H618.0M613.2,206.4H618.0M614.9,197.8H619.7M614.9,204.9H619.7M616.5,196.2H621.3M616.5,203.3H621.3M618.1,195.1H622.9M618.1,202.2H622.9M619.7,194.2H624.5M619.7,201.3H624.5M621.4,193.4H626.2M621.4,200.5H626.2M623.0,192.5H627.8M623.0,199.6H627.8M624.6,191.9H629.4M624.6,199.0H629.4M626.2,191.4H631.0M626.2,198.5H631.0M627.9,190.9H632.7M627.9,198.0H632.7M629.5,190.4H634.3M629.5,197.5H634.3M631.1,189.8H635.9M631.1,196.9H635.9M632.7,189.3H637.5M632.7,196.4H637.5M634.4,188.7H639.2M634.4,195.8H639.2M636.0,187.6H640.8M636.0,194.6H640.8M637.6,185.9H642.4M637.6,192.7H642.4M639.2,184.2H644.0M639.2,190.8H644.0M640.9,181.1H645.7M640.9,187.6H645.7M642.5,173.0H647.3M642.5,179.4H647.3M644.1,159.0H648.9M644.1,166.2H648.9M645.8,138.0H650.6M645.8,146.3H650.6M647.4,119.2H652.2M647.4,129.4H652.2M649.0,108.0H653.8M649.0,119.6H653.8M650.6,115.7H655.4M650.6,127.3H655.4M652.3,119.5H657.1M652.3,132.1H657.1M653.9,119.6H658.7M653.9,131.0H658.7M655.5,118.3H660.3M655.5,127.8H660.3M657.1,116.9H661.9M657.1,125.5H661.9M658.8,127.3H663.6M658.8,136.4H663.6M660.4,137.3H665.2M660.4,147.1H665.2M662.0,139.6H666.8M662.0,149.9H666.8M663.6,142.3H668.4M663.6,152.0H668.4M665.3,143.4H670.1M665.3,153.0H670.1M666.9,144.1H671.7M666.9,153.8H671.7M668.5,144.9H673.3M668.5,154.6H673.3M670.1,145.8H674.9M670.1,155.4H674.9M671.8,146.7H676.6M671.8,156.4H676.6M673.4,147.7H678.2M673.4,157.3H678.2M675.0,148.6H679.8M675.0,158.3H679.8M676.7,149.6H681.5M676.7,159.2H681.5M678.3,160.9H683.1M678.3,168.4H683.1M679.9,190.6H684.7M679.9,197.7H684.7M681.1,205.8H685.9M681.1,212.9H685.9" stroke="#1e1e1e" stroke-width="0.9" fill="none" opacity="0.9"/>
<path d="M416.6,127.3 418.1,127.3 419.6,126.0 421.1,124.5 422.7,123.0 424.2,121.6 425.7,120.1 427.2,118.6 428.7,116.2 430.2,113.8 431.7,111.3 433.3,108.9 434.8,106.4 436.3,104.0 437.8,101.5 439.3,99.0 440.8,95.4 442.3,90.3 443.9,85.2 445.4,81.0 446.9,76.9 448.4,73.4 449.9,71.7 451.4,70.1 452.9,68.4 454.5,68.0 456.0,73.2 457.5,78.5 459.0,85.0 460.5,91.0 462.0,95.4 463.5,97.4 465.1,92.7 466.6,85.4 468.1,76.7 469.6,73.3 471.1,69.9 472.6,68.6 474.1,71.3 475.7,74.1 477.2,79.5 478.7,86.2 480.2,93.0 481.7,103.7 483.2,118.8 484.7,124.2 486.3,124.4 487.8,124.7 489.3,124.9 490.8,125.4 492.3,126.2 493.8,126.9 495.3,128.1 496.9,131.4 498.4,134.7 499.9,137.9 501.4,145.3 502.9,153.7 504.4,143.5 505.9,133.2 507.4,128.9 509.0,124.5 510.5,122.6 512.0,121.0 513.5,119.4 515.0,117.9 516.5,117.7 518.0,119.5 519.6,121.2 521.1,123.0 522.6,124.5 524.1,125.6 525.6,126.8 527.1,127.9 528.6,128.5 530.2,129.0 531.7,129.6 533.2,130.2 534.7,131.2 536.2,133.0 537.7,141.3 539.2,149.8 540.8,158.2 542.3,164.8 543.8,170.2 545.3,172.8 546.8,170.1 548.3,165.7 549.8,160.1 551.4,155.1 552.9,150.8 554.4,147.7 555.9,144.6 557.4,142.2 558.9,141.0 560.4,139.9 562.0,140.6 563.5,143.7 565.0,146.8 566.5,150.0 568.0,152.1 569.5,153.9 571.0,155.7 572.6,157.6 574.1,158.9 575.6,159.2 577.1,159.6 578.6,159.9 580.1,159.7 581.6,157.6 583.2,155.5 584.7,152.9 586.2,148.5 587.4,144.0" stroke="#1a1a1a" stroke-width="0.8" fill="none"/>
<path d="M589.6,183.0 591.2,192.3 592.9,198.5 594.5,202.5 596.1,204.5 597.7,206.5 599.4,207.8 601.0,209.2 602.6,210.5 604.2,211.0 605.9,211.3 607.5,211.6 609.1,210.1 610.7,208.2 612.4,206.3 614.0,204.4 615.6,202.9 617.3,201.3 618.9,199.8 620.5,198.6 622.1,197.8 623.8,196.9 625.4,196.1 627.0,195.5 628.6,195.0 630.3,194.5 631.9,193.9 633.5,193.4 635.1,192.8 636.8,192.3 638.4,191.1 640.0,189.3 641.6,187.5 643.3,184.4 644.9,176.2 646.5,162.6 648.2,142.1 649.8,124.3 651.4,113.8 653.0,121.5 654.7,125.8 656.3,125.3 657.9,123.1 659.5,121.2 661.2,131.9 662.8,142.2 664.4,144.7 666.0,147.1 667.7,148.2 669.3,149.0 670.9,149.7 672.5,150.6 674.2,151.6 675.8,152.5 677.4,153.5 679.1,154.4 680.7,164.6 682.3,194.2 683.5,209.4" stroke="#1a1a1a" stroke-width="0.8" fill="none"/>
<rect x="416.6" y="25.2" width="280.4" height="193.20000000000002" fill="none" stroke="#303030" stroke-width="1.4"/>
<path d="M416.6,218.4v-3M416.6,25.2v3M472.7,218.4v-3M472.7,25.2v3M528.8,218.4v-3M528.8,25.2v3M584.8,218.4v-3M584.8,25.2v3M640.9,218.4v-3M640.9,25.2v3M697.0,218.4v-3M697.0,25.2v3M416.6,218.4h3M697.0,218.4h-3M416.6,186.2h3M697.0,186.2h-3M416.6,154.0h3M697.0,154.0h-3M416.6,121.8h3M697.0,121.8h-3M416.6,89.6h3M697.0,89.6h-3M416.6,57.4h3M697.0,57.4h-3M416.6,25.2h3M697.0,25.2h-3" stroke="#303030" stroke-width="1.2" fill="none"/>
<line x1="544.2" y1="68.5" x2="544.2" y2="106" stroke="#3b3fa0" stroke-width="2"/>
<path d="M540.2,105 L548.2,105 L544.2,112.5 Z" fill="#3b3fa0"/>
<line x1="604.6" y1="113.5" x2="604.6" y2="197" stroke="#3b3fa0" stroke-width="2"/>
<path d="M600.8,196 L608.6,196 L604.6,205 Z" fill="#3b3fa0"/>
</svg>
<div class="lbl" style="left:179px;top:0px">a)</div>
<div class="lbl" style="left:537px;top:0px">b)</div>
<div style="position:absolute;left:16.5px;top:30px;font-size:14px;line-height:16px;color:#fff;white-space:nowrap">#55963 @ t = -2 s</div>
<div style="position:absolute;left:256.5px;top:224.5px;font-size:14px;font-weight:700;line-height:16px;color:#fff;white-space:nowrap">Q6B IR view</div>
<div class="yl" style="top:18.6px">0.7</div><div class="yl" style="top:50.8px">0.6</div><div class="yl" style="top:83.0px">0.5</div><div class="yl" style="top:115.2px">0.4</div><div class="yl" style="top:147.4px">0.3</div><div class="yl" style="top:179.6px">0.2</div><div class="yl" style="top:211.8px">0.1</div><div class="xl" style="left:396.6px">1.9</div><div class="xl" style="left:452.7px">2</div><div class="xl" style="left:508.8px">2.1</div><div class="xl" style="left:564.8px">2.2</div><div class="xl" style="left:620.9px">2.3</div><div class="xl" style="left:677.0px">2.4</div>
<div style="position:absolute;left:493px;top:235px;font-size:13px;line-height:15px;color:#262626;white-space:nowrap">Radial coordinate (m)</div>
<div style="position:absolute;left:388.5px;top:120.5px;width:0;height:0"><div style="position:absolute;left:0;top:0;transform:translate(-50%,-50%) rotate(-90deg);font-size:12.5px;line-height:15px;color:#262626;white-space:nowrap">Emissivity</div></div>
<div class="ann" style="left:505.5px;top:41px">Maximum ISP</div>
<div class="ann" style="left:496.5px;top:54.7px">heat flux location</div>
<div class="ann" style="left:568.5px;top:85.3px">Maximum OSP</div>
<div class="ann" style="left:561.5px;top:99.1px">heat flux location</div>
</div></body></html>
